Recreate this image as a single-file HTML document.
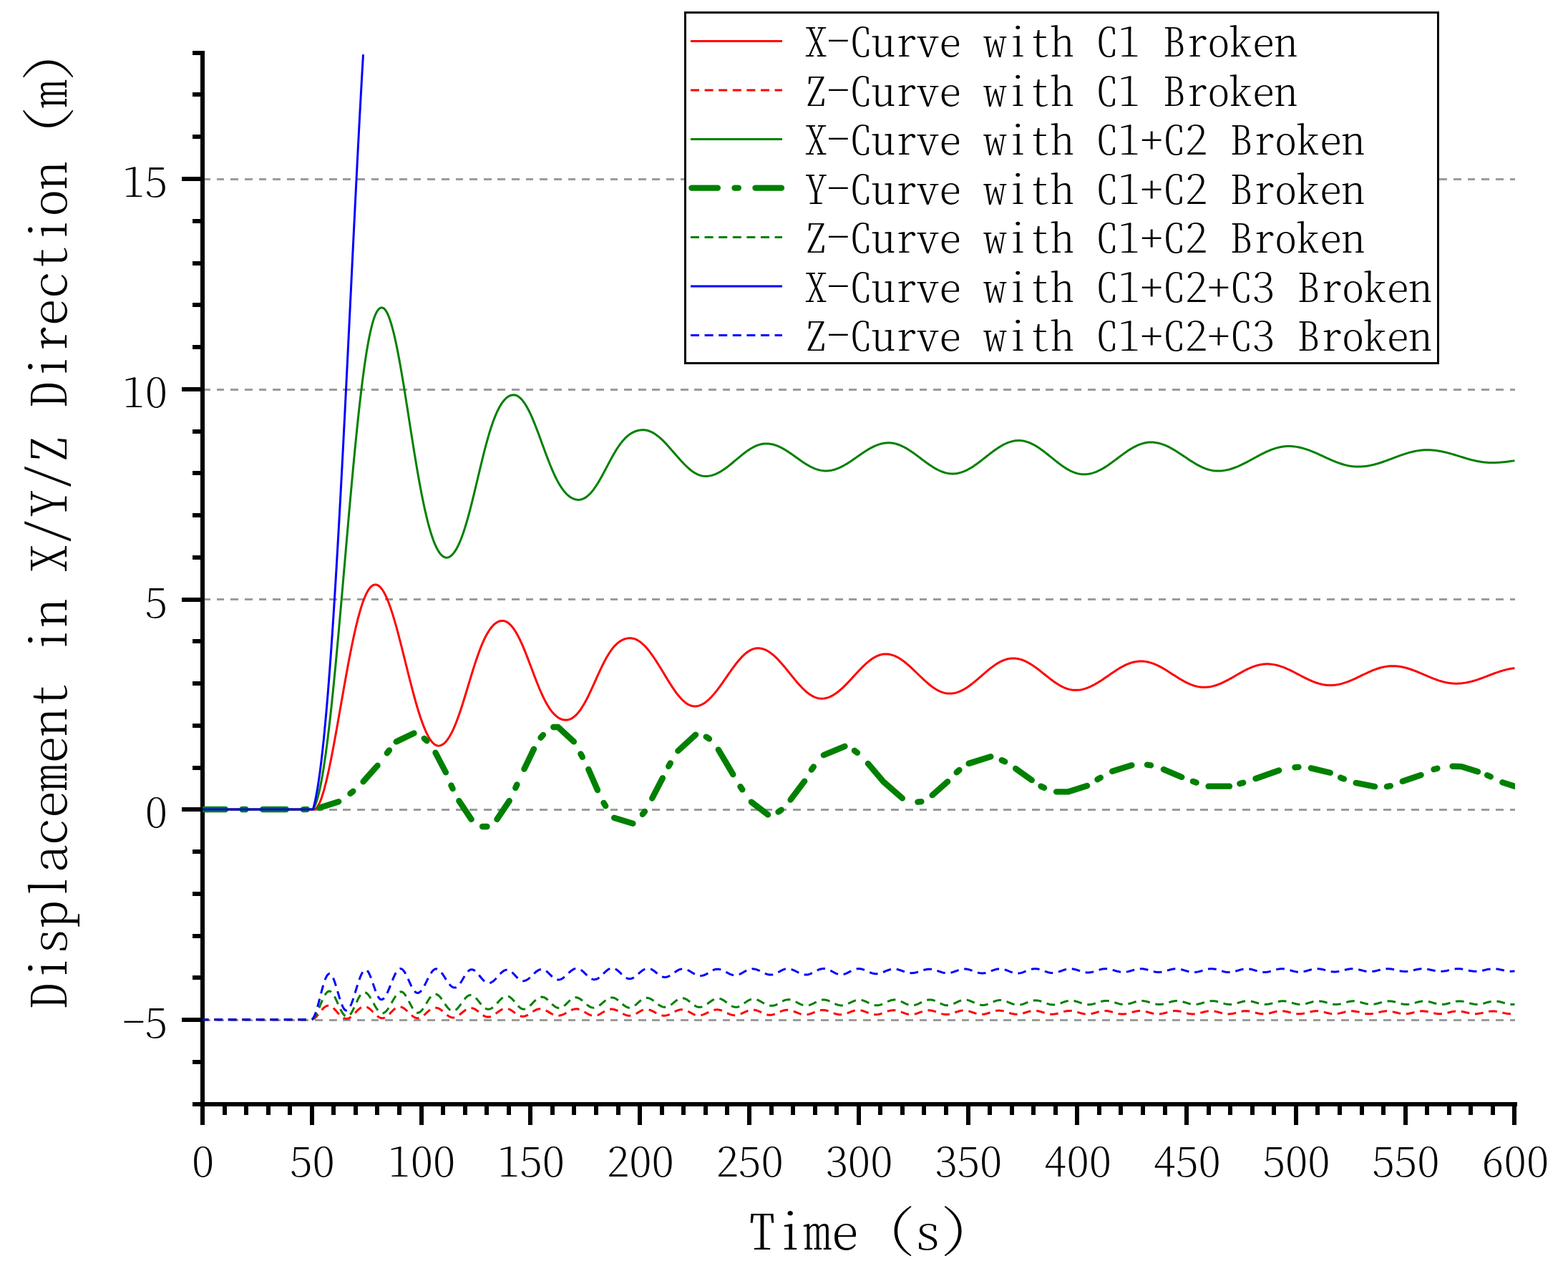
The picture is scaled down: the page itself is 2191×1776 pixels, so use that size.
<!DOCTYPE html>
<html lang="en"><head><meta charset="utf-8"><title>Displacement in X/Y/Z Direction</title>
<style>
html,body{margin:0;padding:0;background:#fff}
body{width:2191px;height:1776px;overflow:hidden}
svg{display:block}
text{font-family:"Noto Serif CJK SC", "Liberation Mono", "Liberation Serif", serif;font-weight:200;font-feature-settings:"hwid" 1;font-kerning:none;fill:#000;text-anchor:middle;white-space:pre}
.ax{fill:#000;shape-rendering:crispEdges}
.grid{stroke:#9b9b9b;stroke-width:3;stroke-dasharray:10.75 8.89;fill:none;shape-rendering:crispEdges}
.c{fill:none;stroke-linejoin:round}
</style></head><body>
<svg width="2191" height="1776" viewBox="0 0 2191 1776">
<rect width="2191" height="1776" fill="#fff"/>
<g class="grid">
<path d="M283 250.55 H2116.5"/>
<path d="M283 544.2 H2116.5"/>
<path d="M283 837.85 H2116.5"/>
<path d="M283 1131.5 H2116.5"/>
<path d="M283 1425.15 H2116.5"/>
</g>
<g class="ax">
<rect x="280" y="71" width="6" height="1475"/>
<rect x="269" y="1540" width="1851" height="6"/>
<rect x="269" y="1481" width="14" height="6"/>
<rect x="254" y="1422" width="29" height="6"/>
<rect x="269" y="1363" width="14" height="6"/>
<rect x="269" y="1305" width="14" height="6"/>
<rect x="269" y="1246" width="14" height="6"/>
<rect x="269" y="1187" width="14" height="6"/>
<rect x="254" y="1128" width="29" height="6"/>
<rect x="269" y="1070" width="14" height="6"/>
<rect x="269" y="1011" width="14" height="6"/>
<rect x="269" y="952" width="14" height="6"/>
<rect x="269" y="893" width="14" height="6"/>
<rect x="254" y="835" width="29" height="6"/>
<rect x="269" y="776" width="14" height="6"/>
<rect x="269" y="717" width="14" height="6"/>
<rect x="269" y="658" width="14" height="6"/>
<rect x="269" y="600" width="14" height="6"/>
<rect x="254" y="541" width="29" height="6"/>
<rect x="269" y="482" width="14" height="6"/>
<rect x="269" y="423" width="14" height="6"/>
<rect x="269" y="365" width="14" height="6"/>
<rect x="269" y="306" width="14" height="6"/>
<rect x="254" y="247" width="29" height="6"/>
<rect x="269" y="188" width="14" height="6"/>
<rect x="269" y="129" width="14" height="6"/>
<rect x="269" y="71" width="14" height="6"/>
<rect x="280" y="1543" width="6" height="29"/>
<rect x="311" y="1543" width="6" height="15"/>
<rect x="341" y="1543" width="6" height="15"/>
<rect x="372" y="1543" width="6" height="15"/>
<rect x="402" y="1543" width="6" height="15"/>
<rect x="433" y="1543" width="6" height="29"/>
<rect x="463" y="1543" width="6" height="15"/>
<rect x="494" y="1543" width="6" height="15"/>
<rect x="524" y="1543" width="6" height="15"/>
<rect x="555" y="1543" width="6" height="15"/>
<rect x="586" y="1543" width="6" height="29"/>
<rect x="616" y="1543" width="6" height="15"/>
<rect x="647" y="1543" width="6" height="15"/>
<rect x="677" y="1543" width="6" height="15"/>
<rect x="708" y="1543" width="6" height="15"/>
<rect x="738" y="1543" width="6" height="29"/>
<rect x="769" y="1543" width="6" height="15"/>
<rect x="799" y="1543" width="6" height="15"/>
<rect x="830" y="1543" width="6" height="15"/>
<rect x="861" y="1543" width="6" height="15"/>
<rect x="891" y="1543" width="6" height="29"/>
<rect x="922" y="1543" width="6" height="15"/>
<rect x="952" y="1543" width="6" height="15"/>
<rect x="983" y="1543" width="6" height="15"/>
<rect x="1013" y="1543" width="6" height="15"/>
<rect x="1044" y="1543" width="6" height="29"/>
<rect x="1075" y="1543" width="6" height="15"/>
<rect x="1105" y="1543" width="6" height="15"/>
<rect x="1136" y="1543" width="6" height="15"/>
<rect x="1166" y="1543" width="6" height="15"/>
<rect x="1197" y="1543" width="6" height="29"/>
<rect x="1227" y="1543" width="6" height="15"/>
<rect x="1258" y="1543" width="6" height="15"/>
<rect x="1288" y="1543" width="6" height="15"/>
<rect x="1319" y="1543" width="6" height="15"/>
<rect x="1350" y="1543" width="6" height="29"/>
<rect x="1380" y="1543" width="6" height="15"/>
<rect x="1411" y="1543" width="6" height="15"/>
<rect x="1441" y="1543" width="6" height="15"/>
<rect x="1472" y="1543" width="6" height="15"/>
<rect x="1502" y="1543" width="6" height="29"/>
<rect x="1533" y="1543" width="6" height="15"/>
<rect x="1563" y="1543" width="6" height="15"/>
<rect x="1594" y="1543" width="6" height="15"/>
<rect x="1625" y="1543" width="6" height="15"/>
<rect x="1655" y="1543" width="6" height="29"/>
<rect x="1686" y="1543" width="6" height="15"/>
<rect x="1716" y="1543" width="6" height="15"/>
<rect x="1747" y="1543" width="6" height="15"/>
<rect x="1777" y="1543" width="6" height="15"/>
<rect x="1808" y="1543" width="6" height="29"/>
<rect x="1838" y="1543" width="6" height="15"/>
<rect x="1869" y="1543" width="6" height="15"/>
<rect x="1900" y="1543" width="6" height="15"/>
<rect x="1930" y="1543" width="6" height="15"/>
<rect x="1961" y="1543" width="6" height="29"/>
<rect x="1991" y="1543" width="6" height="15"/>
<rect x="2022" y="1543" width="6" height="15"/>
<rect x="2052" y="1543" width="6" height="15"/>
<rect x="2083" y="1543" width="6" height="15"/>
<rect x="2113" y="1543" width="6" height="29"/>
</g>
<svg x="283" y="72.5" width="1834" height="1471" viewBox="283 72.5 1834 1471" overflow="hidden">
<g class="c">
<path d="M283 1131.1L437.32 1131.1L438.55 1131.3L439.78 1131.03L441 1130.31L442.23 1129.16L443.46 1127.59L444.69 1125.62L445.92 1123.26L447.15 1120.52L448.38 1117.43L449.61 1113.99L450.83 1110.23L452.06 1106.16L453.29 1101.79L454.52 1097.14L455.75 1092.23L456.98 1087.07L458.21 1081.68L459.44 1076.07L460.66 1070.26L461.89 1064.27L463.12 1058.11L464.35 1051.79L465.58 1045.33L466.81 1038.75L468.04 1032.06L469.27 1025.28L470.49 1018.42L471.72 1011.5L472.95 1004.53L474.18 997.52L475.41 990.49L476.64 983.46L477.87 976.43L479.1 969.43L480.33 962.46L481.55 955.53L482.78 948.67L484.01 941.88L485.24 935.17L486.47 928.56L487.7 922.06L488.93 915.68L490.16 909.43L491.38 903.31L492.61 897.35L493.84 891.55L495.07 885.92L496.3 880.46L497.53 875.19L498.76 870.12L499.99 865.24L501.21 860.58L502.44 856.13L503.67 851.9L504.9 847.9L506.13 844.13L507.36 840.6L508.59 837.3L509.82 834.25L511.04 831.44L512.27 828.88L513.5 826.57L514.73 824.51L515.96 822.7L517.19 821.14L518.42 819.83L519.65 818.76L520.87 817.94L522.1 817.35L523.33 817.01L524.56 816.89L526.08 817.07L527.6 817.61L529.12 818.49L530.64 819.73L532.16 821.32L533.68 823.24L535.2 825.5L536.72 828.08L538.24 830.98L539.76 834.19L541.28 837.69L542.8 841.47L544.32 845.53L545.84 849.84L547.36 854.39L548.88 859.17L550.4 864.16L551.92 869.34L553.44 874.69L554.96 880.21L556.48 885.86L558 891.64L559.52 897.52L561.04 903.48L562.56 909.51L564.08 915.59L565.6 921.7L567.12 927.82L568.64 933.93L570.16 940.01L571.68 946.05L573.2 952.03L574.72 957.93L576.24 963.74L577.76 969.44L579.28 975.01L580.8 980.44L582.32 985.71L583.84 990.81L585.36 995.74L586.88 1000.46L588.4 1004.98L589.92 1009.28L591.44 1013.36L592.96 1017.19L594.48 1020.78L596 1024.11L597.52 1027.18L599.04 1029.98L600.56 1032.5L602.08 1034.73L603.6 1036.68L605.12 1038.34L606.64 1039.7L608.16 1040.76L609.68 1041.52L611.2 1041.97L612.72 1042.12L614.26 1041.99L615.8 1041.61L617.34 1040.96L618.87 1040.06L620.41 1038.9L621.95 1037.48L623.49 1035.81L625.03 1033.88L626.57 1031.7L628.11 1029.28L629.64 1026.6L631.18 1023.69L632.72 1020.54L634.26 1017.17L635.8 1013.57L637.34 1009.76L638.87 1005.75L640.41 1001.55L641.95 997.18L643.49 992.65L645.03 987.98L646.57 983.19L648.1 978.29L649.64 973.3L651.18 968.25L652.72 963.16L654.26 958.04L655.8 952.93L657.34 947.84L658.87 942.79L660.41 937.81L661.95 932.91L663.49 928.11L665.03 923.43L666.57 918.9L668.1 914.51L669.64 910.29L671.18 906.24L672.72 902.38L674.26 898.71L675.8 895.24L677.34 891.98L678.87 888.92L680.41 886.07L681.95 883.43L683.49 881L685.03 878.78L686.57 876.77L688.1 874.96L689.64 873.35L691.18 871.94L692.72 870.73L694.26 869.71L695.8 868.87L697.33 868.23L698.87 867.77L700.41 867.49L701.95 867.4L703.48 867.51L705.01 867.83L706.54 868.35L708.07 869.09L709.6 870.04L711.13 871.2L712.66 872.57L714.19 874.14L715.72 875.92L717.26 877.9L718.79 880.08L720.32 882.46L721.85 885.02L723.38 887.76L724.91 890.68L726.44 893.77L727.97 897.02L729.5 900.41L731.03 903.94L732.56 907.59L734.09 911.35L735.62 915.21L737.15 919.14L738.68 923.14L740.21 927.18L741.74 931.25L743.27 935.32L744.81 939.39L746.34 943.44L747.87 947.44L749.4 951.38L750.93 955.25L752.46 959.04L753.99 962.71L755.52 966.28L757.05 969.72L758.58 973.02L760.11 976.18L761.64 979.19L763.17 982.04L764.7 984.73L766.23 987.26L767.76 989.62L769.29 991.82L770.82 993.85L772.35 995.72L773.89 997.43L775.42 998.97L776.95 1000.36L778.48 1001.59L780.01 1002.66L781.54 1003.59L783.07 1004.37L784.6 1005L786.13 1005.49L787.66 1005.84L789.19 1006.05L790.72 1006.12L792.24 1006.04L793.76 1005.8L795.28 1005.4L796.8 1004.84L798.32 1004.12L799.84 1003.23L801.36 1002.19L802.88 1000.98L804.4 999.61L805.92 998.08L807.44 996.38L808.96 994.53L810.48 992.52L812 990.36L813.52 988.04L815.04 985.58L816.56 982.99L818.08 980.26L819.6 977.4L821.12 974.44L822.64 971.37L824.16 968.21L825.68 964.97L827.2 961.67L828.72 958.32L830.24 954.94L831.76 951.54L833.28 948.13L834.8 944.74L836.33 941.38L837.85 938.06L839.37 934.81L840.89 931.62L842.41 928.52L843.93 925.52L845.45 922.62L846.97 919.84L848.49 917.18L850.01 914.65L851.53 912.26L853.05 910L854.57 907.88L856.09 905.91L857.61 904.07L859.13 902.37L860.65 900.82L862.17 899.39L863.69 898.1L865.21 896.94L866.73 895.9L868.25 894.99L869.77 894.19L871.29 893.51L872.81 892.94L874.33 892.47L875.85 892.11L877.37 891.86L878.89 891.71L880.41 891.66L881.94 891.72L883.48 891.91L885.01 892.23L886.54 892.67L888.07 893.23L889.61 893.92L891.14 894.73L892.67 895.66L894.21 896.71L895.74 897.87L897.27 899.14L898.81 900.52L900.34 902.01L901.87 903.6L903.41 905.29L904.94 907.08L906.47 908.95L908 910.91L909.54 912.95L911.07 915.06L912.6 917.25L914.14 919.5L915.67 921.8L917.2 924.16L918.74 926.57L920.27 929.01L921.8 931.49L923.34 933.99L924.87 936.51L926.4 939.05L927.93 941.59L929.47 944.12L931 946.65L932.53 949.16L934.07 951.65L935.6 954.1L937.13 956.52L938.67 958.89L940.2 961.2L941.73 963.46L943.27 965.65L944.8 967.76L946.33 969.79L947.86 971.73L949.4 973.58L950.93 975.33L952.46 976.98L954 978.51L955.53 979.93L957.06 981.23L958.6 982.4L960.13 983.44L961.66 984.36L963.2 985.13L964.73 985.77L966.26 986.27L967.79 986.63L969.33 986.85L970.86 986.92L972.38 986.86L973.9 986.68L975.42 986.38L976.94 985.97L978.47 985.44L979.99 984.79L981.51 984.03L983.03 983.16L984.55 982.19L986.07 981.1L987.59 979.92L989.11 978.64L990.63 977.26L992.16 975.79L993.68 974.23L995.2 972.6L996.72 970.88L998.24 969.1L999.76 967.24L1001.28 965.33L1002.8 963.36L1004.32 961.34L1005.84 959.27L1007.37 957.17L1008.89 955.04L1010.41 952.88L1011.93 950.7L1013.45 948.5L1014.97 946.31L1016.49 944.11L1018.01 941.92L1019.53 939.74L1021.06 937.58L1022.58 935.44L1024.1 933.34L1025.62 931.27L1027.14 929.25L1028.66 927.28L1030.18 925.37L1031.7 923.52L1033.22 921.73L1034.74 920.01L1036.27 918.38L1037.79 916.82L1039.31 915.35L1040.83 913.98L1042.35 912.69L1043.87 911.51L1045.39 910.43L1046.91 909.45L1048.43 908.58L1049.96 907.82L1051.48 907.17L1053 906.64L1054.52 906.23L1056.04 905.93L1057.56 905.75L1059.08 905.69L1060.62 905.75L1062.15 905.9L1063.69 906.16L1065.22 906.52L1066.76 906.98L1068.29 907.54L1069.82 908.2L1071.36 908.95L1072.89 909.8L1074.43 910.74L1075.96 911.77L1077.5 912.88L1079.03 914.08L1080.57 915.35L1082.1 916.7L1083.64 918.12L1085.17 919.61L1086.71 921.16L1088.24 922.77L1089.78 924.43L1091.31 926.14L1092.85 927.89L1094.38 929.68L1095.92 931.51L1097.45 933.36L1098.99 935.23L1100.52 937.12L1102.05 939.02L1103.59 940.93L1105.12 942.84L1106.66 944.74L1108.19 946.63L1109.73 948.51L1111.26 950.36L1112.8 952.18L1114.33 953.98L1115.87 955.73L1117.4 957.44L1118.94 959.1L1120.47 960.71L1122.01 962.26L1123.54 963.74L1125.08 965.17L1126.61 966.51L1128.15 967.79L1129.68 968.98L1131.21 970.1L1132.75 971.13L1134.28 972.07L1135.82 972.91L1137.35 973.67L1138.89 974.33L1140.42 974.89L1141.96 975.35L1143.49 975.71L1145.03 975.96L1146.56 976.12L1148.1 976.17L1149.61 976.13L1151.13 975.99L1152.65 975.77L1154.17 975.47L1155.68 975.07L1157.2 974.6L1158.72 974.03L1160.24 973.39L1161.75 972.66L1163.27 971.86L1164.79 970.98L1166.31 970.03L1167.83 969.01L1169.34 967.91L1170.86 966.76L1172.38 965.54L1173.9 964.26L1175.41 962.93L1176.93 961.55L1178.45 960.13L1179.97 958.66L1181.48 957.15L1183 955.6L1184.52 954.03L1186.04 952.43L1187.55 950.81L1189.07 949.17L1190.59 947.53L1192.11 945.87L1193.62 944.21L1195.14 942.56L1196.66 940.91L1198.18 939.28L1199.69 937.66L1201.21 936.06L1202.73 934.48L1204.25 932.94L1205.76 931.43L1207.28 929.96L1208.8 928.53L1210.32 927.15L1211.83 925.82L1213.35 924.55L1214.87 923.33L1216.39 922.17L1217.9 921.08L1219.42 920.06L1220.94 919.1L1222.46 918.23L1223.97 917.42L1225.49 916.7L1227.01 916.05L1228.53 915.49L1230.04 915.01L1231.56 914.62L1233.08 914.31L1234.6 914.09L1236.11 913.96L1237.63 913.92L1239.17 913.96L1240.71 914.08L1242.25 914.28L1243.79 914.56L1245.32 914.92L1246.86 915.36L1248.4 915.88L1249.94 916.47L1251.48 917.13L1253.02 917.87L1254.55 918.67L1256.09 919.54L1257.63 920.48L1259.17 921.48L1260.71 922.54L1262.25 923.65L1263.79 924.81L1265.32 926.03L1266.86 927.29L1268.4 928.59L1269.94 929.93L1271.48 931.3L1273.02 932.71L1274.55 934.13L1276.09 935.59L1277.63 937.05L1279.17 938.54L1280.71 940.03L1282.25 941.52L1283.79 943.01L1285.32 944.5L1286.86 945.99L1288.4 947.45L1289.94 948.9L1291.48 950.33L1293.02 951.74L1294.55 953.11L1296.09 954.45L1297.63 955.75L1299.17 957.01L1300.71 958.22L1302.25 959.39L1303.78 960.5L1305.32 961.56L1306.86 962.56L1308.4 963.49L1309.94 964.37L1311.48 965.17L1313.02 965.91L1314.55 966.57L1316.09 967.16L1317.63 967.68L1319.17 968.12L1320.71 968.48L1322.25 968.76L1323.78 968.96L1325.32 969.08L1326.86 969.12L1328.39 969.09L1329.93 968.98L1331.46 968.8L1332.99 968.55L1334.53 968.23L1336.06 967.83L1337.59 967.37L1339.13 966.85L1340.66 966.26L1342.19 965.6L1343.73 964.88L1345.26 964.1L1346.79 963.27L1348.33 962.38L1349.86 961.44L1351.39 960.45L1352.93 959.41L1354.46 958.32L1355.99 957.2L1357.52 956.04L1359.06 954.85L1360.59 953.62L1362.12 952.37L1363.66 951.1L1365.19 949.8L1366.72 948.5L1368.26 947.18L1369.79 945.85L1371.32 944.51L1372.86 943.18L1374.39 941.85L1375.92 940.53L1377.46 939.22L1378.99 937.93L1380.52 936.66L1382.06 935.41L1383.59 934.18L1385.12 932.99L1386.65 931.83L1388.19 930.71L1389.72 929.62L1391.25 928.58L1392.79 927.59L1394.32 926.65L1395.85 925.76L1397.39 924.92L1398.92 924.15L1400.45 923.43L1401.99 922.77L1403.52 922.18L1405.05 921.65L1406.59 921.2L1408.12 920.8L1409.65 920.48L1411.19 920.23L1412.72 920.05L1414.25 919.94L1415.79 919.91L1417.31 919.94L1418.84 920.04L1420.37 920.21L1421.9 920.44L1423.42 920.75L1424.95 921.11L1426.48 921.54L1428.01 922.03L1429.54 922.59L1431.06 923.2L1432.59 923.87L1434.12 924.59L1435.65 925.37L1437.18 926.2L1438.7 927.08L1440.23 928L1441.76 928.97L1443.29 929.98L1444.82 931.02L1446.34 932.1L1447.87 933.21L1449.4 934.34L1450.93 935.5L1452.45 936.68L1453.98 937.87L1455.51 939.08L1457.04 940.3L1458.57 941.52L1460.09 942.75L1461.62 943.97L1463.15 945.19L1464.68 946.4L1466.21 947.59L1467.73 948.77L1469.26 949.93L1470.79 951.07L1472.32 952.17L1473.85 953.25L1475.37 954.29L1476.9 955.3L1478.43 956.27L1479.96 957.19L1481.48 958.07L1483.01 958.9L1484.54 959.68L1486.07 960.4L1487.6 961.07L1489.12 961.69L1490.65 962.24L1492.18 962.73L1493.71 963.16L1495.24 963.53L1496.76 963.83L1498.29 964.06L1499.82 964.23L1501.35 964.33L1502.88 964.37L1504.4 964.34L1505.92 964.25L1507.44 964.12L1508.97 963.92L1510.49 963.68L1512.01 963.38L1513.54 963.02L1515.06 962.62L1516.58 962.16L1518.1 961.66L1519.63 961.11L1521.15 960.51L1522.67 959.86L1524.19 959.18L1525.72 958.45L1527.24 957.68L1528.76 956.88L1530.29 956.04L1531.81 955.17L1533.33 954.26L1534.85 953.33L1536.38 952.38L1537.9 951.4L1539.42 950.41L1540.95 949.39L1542.47 948.36L1543.99 947.32L1545.51 946.27L1547.04 945.22L1548.56 944.16L1550.08 943.11L1551.61 942.05L1553.13 941L1554.65 939.96L1556.17 938.93L1557.7 937.92L1559.22 936.92L1560.74 935.95L1562.26 934.99L1563.79 934.06L1565.31 933.16L1566.83 932.29L1568.36 931.45L1569.88 930.64L1571.4 929.88L1572.92 929.15L1574.45 928.46L1575.97 927.82L1577.49 927.22L1579.02 926.67L1580.54 926.16L1582.06 925.71L1583.58 925.3L1585.11 924.95L1586.63 924.65L1588.15 924.4L1589.68 924.21L1591.2 924.07L1592.72 923.99L1594.24 923.96L1595.77 923.99L1597.29 924.07L1598.81 924.2L1600.33 924.38L1601.86 924.62L1603.38 924.91L1604.9 925.25L1606.42 925.64L1607.95 926.08L1609.47 926.56L1610.99 927.09L1612.52 927.67L1614.04 928.28L1615.56 928.94L1617.08 929.64L1618.61 930.37L1620.13 931.14L1621.65 931.94L1623.17 932.77L1624.7 933.62L1626.22 934.5L1627.74 935.41L1629.26 936.33L1630.79 937.27L1632.31 938.23L1633.83 939.2L1635.35 940.17L1636.88 941.15L1638.4 942.14L1639.92 943.12L1641.45 944.1L1642.97 945.08L1644.49 946.04L1646.01 947L1647.54 947.94L1649.06 948.86L1650.58 949.77L1652.1 950.65L1653.63 951.51L1655.15 952.34L1656.67 953.14L1658.19 953.9L1659.72 954.64L1661.24 955.33L1662.76 955.99L1664.28 956.61L1665.81 957.18L1667.33 957.71L1668.85 958.2L1670.38 958.63L1671.9 959.02L1673.42 959.36L1674.94 959.65L1676.47 959.89L1677.99 960.07L1679.51 960.21L1681.03 960.29L1682.56 960.31L1684.07 960.29L1685.59 960.22L1687.11 960.1L1688.63 959.93L1690.14 959.72L1691.66 959.46L1693.18 959.16L1694.7 958.81L1696.21 958.42L1697.73 957.99L1699.25 957.52L1700.76 957L1702.28 956.45L1703.8 955.86L1705.32 955.24L1706.83 954.59L1708.35 953.9L1709.87 953.19L1711.39 952.45L1712.9 951.68L1714.42 950.89L1715.94 950.08L1717.46 949.26L1718.97 948.42L1720.49 947.57L1722.01 946.7L1723.53 945.83L1725.04 944.95L1726.56 944.07L1728.08 943.2L1729.59 942.32L1731.11 941.45L1732.63 940.58L1734.15 939.73L1735.66 938.89L1737.18 938.06L1738.7 937.26L1740.22 936.47L1741.73 935.7L1743.25 934.96L1744.77 934.25L1746.29 933.56L1747.8 932.91L1749.32 932.28L1750.84 931.7L1752.36 931.15L1753.87 930.63L1755.39 930.16L1756.91 929.73L1758.42 929.34L1759.94 928.99L1761.46 928.69L1762.98 928.43L1764.49 928.22L1766.01 928.05L1767.53 927.93L1769.05 927.86L1770.56 927.84L1772.09 927.86L1773.61 927.92L1775.13 928.03L1776.65 928.18L1778.18 928.38L1779.7 928.61L1781.22 928.89L1782.74 929.21L1784.27 929.56L1785.79 929.96L1787.31 930.39L1788.84 930.86L1790.36 931.36L1791.88 931.9L1793.4 932.47L1794.93 933.06L1796.45 933.69L1797.97 934.34L1799.49 935.02L1801.02 935.72L1802.54 936.44L1804.06 937.18L1805.58 937.93L1807.11 938.7L1808.63 939.48L1810.15 940.27L1811.67 941.06L1813.2 941.86L1814.72 942.66L1816.24 943.47L1817.77 944.27L1819.29 945.06L1820.81 945.85L1822.33 946.63L1823.86 947.4L1825.38 948.15L1826.9 948.89L1828.42 949.61L1829.95 950.31L1831.47 950.99L1832.99 951.64L1834.51 952.27L1836.04 952.86L1837.56 953.43L1839.08 953.97L1840.6 954.47L1842.13 954.94L1843.65 955.37L1845.17 955.77L1846.7 956.12L1848.22 956.44L1849.74 956.72L1851.26 956.95L1852.79 957.15L1854.31 957.3L1855.83 957.41L1857.35 957.47L1858.88 957.49L1860.4 957.47L1861.92 957.41L1863.44 957.31L1864.97 957.17L1866.49 956.99L1868.01 956.77L1869.53 956.51L1871.06 956.21L1872.58 955.88L1874.1 955.51L1875.62 955.1L1877.15 954.66L1878.67 954.19L1880.19 953.69L1881.71 953.16L1883.24 952.61L1884.76 952.02L1886.28 951.41L1887.8 950.78L1889.33 950.13L1890.85 949.46L1892.37 948.78L1893.89 948.08L1895.42 947.37L1896.94 946.65L1898.46 945.92L1899.98 945.18L1901.51 944.44L1903.03 943.7L1904.55 942.97L1906.07 942.23L1907.6 941.5L1909.12 940.78L1910.64 940.07L1912.16 939.37L1913.69 938.68L1915.21 938.01L1916.73 937.36L1918.26 936.73L1919.78 936.13L1921.3 935.54L1922.82 934.99L1924.35 934.46L1925.87 933.95L1927.39 933.48L1928.91 933.05L1930.44 932.64L1931.96 932.27L1933.48 931.94L1935 931.64L1936.53 931.38L1938.05 931.16L1939.57 930.98L1941.09 930.84L1942.62 930.74L1944.14 930.67L1945.66 930.65L1947.2 930.67L1948.74 930.73L1950.28 930.82L1951.81 930.94L1953.35 931.1L1954.89 931.3L1956.43 931.52L1957.97 931.79L1959.51 932.08L1961.05 932.41L1962.58 932.76L1964.12 933.15L1965.66 933.57L1967.2 934.01L1968.74 934.48L1970.28 934.97L1971.81 935.49L1973.35 936.03L1974.89 936.59L1976.43 937.16L1977.97 937.76L1979.51 938.37L1981.04 938.99L1982.58 939.62L1984.12 940.27L1985.66 940.92L1987.2 941.58L1988.74 942.24L1990.28 942.9L1991.81 943.56L1993.35 944.22L1994.89 944.88L1996.43 945.53L1997.97 946.18L1999.51 946.81L2001.04 947.43L2002.58 948.04L2004.12 948.64L2005.66 949.21L2007.2 949.77L2008.74 950.31L2010.28 950.83L2011.81 951.32L2013.35 951.79L2014.89 952.23L2016.43 952.65L2017.97 953.03L2019.51 953.39L2021.04 953.72L2022.58 954.01L2024.12 954.28L2025.66 954.5L2027.2 954.7L2028.74 954.86L2030.27 954.98L2031.81 955.07L2033.35 955.13L2034.89 955.14L2036.43 955.13L2037.97 955.08L2039.51 955L2041.05 954.89L2042.59 954.75L2044.13 954.57L2045.67 954.37L2047.21 954.13L2048.75 953.87L2050.28 953.58L2051.82 953.26L2053.36 952.91L2054.9 952.54L2056.44 952.14L2057.98 951.72L2059.52 951.28L2061.06 950.82L2062.6 950.34L2064.14 949.84L2065.68 949.32L2067.22 948.79L2068.76 948.24L2070.3 947.69L2071.84 947.12L2073.38 946.54L2074.92 945.96L2076.45 945.37L2077.99 944.78L2079.53 944.19L2081.07 943.6L2082.61 943.01L2084.15 942.42L2085.69 941.84L2087.23 941.26L2088.77 940.69L2090.31 940.14L2091.85 939.59L2093.39 939.06L2094.93 938.55L2096.47 938.05L2098.01 937.56L2099.55 937.1L2101.09 936.66L2102.63 936.24L2104.16 935.85L2105.7 935.48L2107.24 935.13L2108.78 934.81L2110.32 934.52L2111.86 934.26L2113.4 934.03L2114.94 933.82L2116.48 933.65" stroke="#ff0000" stroke-width="3"/>
<path d="M283 1424.75L434.57 1424.75L435.79 1424.63L437.01 1424.27L438.23 1423.67L439.46 1422.86L440.68 1421.86L441.9 1420.68L443.12 1419.36L444.35 1417.93L445.57 1416.43L446.79 1414.89L448.01 1413.35L449.24 1411.85L450.46 1410.43L451.68 1409.12L452.9 1407.95L454.12 1406.96L455.35 1406.16L456.57 1405.59L457.79 1405.24L459.01 1405.16L460.24 1405.33L461.46 1405.71L462.68 1406.29L463.9 1407.07L465.13 1408.01L466.35 1409.11L467.57 1410.32L468.79 1411.62L470.01 1412.99L471.24 1414.38L472.46 1415.77L473.68 1417.12L474.9 1418.41L476.13 1419.61L477.35 1420.68L478.57 1421.61L479.79 1422.37L481.02 1422.96L482.24 1423.35L483.46 1423.55L484.68 1423.55L485.91 1423.37L487.13 1422.98L488.35 1422.4L489.57 1421.64L490.79 1420.72L492.02 1419.67L493.24 1418.51L494.46 1417.26L495.68 1415.97L496.91 1414.65L498.13 1413.34L499.35 1412.08L500.57 1410.89L501.8 1409.79L503.02 1408.83L504.24 1408L505.46 1407.35L506.68 1406.87L507.91 1406.58L509.13 1406.49L510.35 1406.56L511.57 1406.82L512.8 1407.27L514.02 1407.9L515.24 1408.68L516.46 1409.6L517.69 1410.64L518.91 1411.77L520.13 1412.98L521.35 1414.21L522.57 1415.46L523.8 1416.69L525.02 1417.87L526.24 1418.97L527.46 1419.97L528.69 1420.85L529.91 1421.57L531.13 1422.14L532.35 1422.52L533.58 1422.73L534.8 1422.74L536.02 1422.55L537.24 1422.17L538.46 1421.59L539.69 1420.83L540.91 1419.92L542.13 1418.87L543.35 1417.72L544.58 1416.49L545.8 1415.21L547.02 1413.93L548.24 1412.67L549.47 1411.46L550.69 1410.34L551.91 1409.33L553.13 1408.46L554.36 1407.76L555.58 1407.23L556.8 1406.9L558.02 1406.77L559.24 1406.83L560.47 1407.08L561.69 1407.5L562.91 1408.09L564.13 1408.83L565.36 1409.7L566.58 1410.68L567.8 1411.76L569.02 1412.91L570.25 1414.09L571.47 1415.29L572.69 1416.48L573.91 1417.63L575.13 1418.71L576.36 1419.71L577.58 1420.59L578.8 1421.34L580.02 1421.94L581.25 1422.39L582.47 1422.66L583.69 1422.75L584.91 1422.65L586.14 1422.35L587.36 1421.89L588.58 1421.27L589.8 1420.51L591.02 1419.63L592.25 1418.65L593.47 1417.6L594.69 1416.49L595.91 1415.37L597.14 1414.25L598.36 1413.16L599.58 1412.13L600.8 1411.18L602.03 1410.33L603.25 1409.6L604.47 1409.01L605.69 1408.57L606.91 1408.28L608.14 1408.16L609.36 1408.21L610.58 1408.37L611.8 1408.7L613.03 1409.19L614.25 1409.83L615.47 1410.6L616.69 1411.48L617.92 1412.45L619.14 1413.49L620.36 1414.56L621.58 1415.64L622.8 1416.72L624.03 1417.75L625.25 1418.71L626.47 1419.58L627.69 1420.34L628.92 1420.96L630.14 1421.44L631.36 1421.77L632.58 1421.92L633.81 1421.9L635.03 1421.72L636.25 1421.37L637.47 1420.89L638.7 1420.27L639.92 1419.53L641.14 1418.69L642.36 1417.77L643.58 1416.79L644.81 1415.78L646.03 1414.75L647.25 1413.74L648.47 1412.76L649.7 1411.85L650.92 1411.01L652.14 1410.27L653.36 1409.65L654.59 1409.16L655.81 1408.8L657.03 1408.6L658.25 1408.55L659.47 1408.65L660.7 1408.92L661.92 1409.34L663.14 1409.91L664.36 1410.6L665.59 1411.4L666.81 1412.29L668.03 1413.24L669.25 1414.23L670.48 1415.24L671.7 1416.24L672.92 1417.2L674.14 1418.09L675.36 1418.9L676.59 1419.61L677.81 1420.2L679.03 1420.65L680.25 1420.95L681.48 1421.1L682.7 1421.09L683.92 1420.94L685.14 1420.64L686.37 1420.22L687.59 1419.67L688.81 1419.02L690.03 1418.27L691.25 1417.45L692.48 1416.58L693.7 1415.67L694.92 1414.75L696.14 1413.84L697.37 1412.97L698.59 1412.15L699.81 1411.4L701.03 1410.74L702.26 1410.18L703.48 1409.74L704.7 1409.42L705.92 1409.24L707.15 1409.2L708.37 1409.3L709.59 1409.54L710.81 1409.93L712.03 1410.45L713.26 1411.08L714.48 1411.81L715.7 1412.62L716.92 1413.48L718.15 1414.37L719.37 1415.28L720.59 1416.16L721.81 1417.01L723.04 1417.8L724.26 1418.51L725.48 1419.11L726.7 1419.6L727.92 1419.97L729.15 1420.2L730.37 1420.28L731.59 1420.22L732.81 1420.03L734.04 1419.71L735.26 1419.27L736.48 1418.72L737.7 1418.09L738.93 1417.37L740.15 1416.6L741.37 1415.78L742.59 1414.95L743.81 1414.12L745.04 1413.31L746.26 1412.54L747.48 1411.83L748.7 1411.2L749.93 1410.66L751.15 1410.23L752.37 1409.91L753.59 1409.7L754.82 1409.63L756.04 1409.68L757.26 1409.84L758.48 1410.13L759.7 1410.52L760.93 1411L762.15 1411.57L763.37 1412.21L764.59 1412.9L765.82 1413.63L767.04 1414.37L768.26 1415.12L769.48 1415.84L770.71 1416.53L771.93 1417.17L773.15 1417.73L774.37 1418.22L775.59 1418.62L776.82 1418.91L778.04 1419.09L779.26 1419.16L780.48 1419.16L781.71 1419.05L782.93 1418.83L784.15 1418.52L785.37 1418.12L786.6 1417.63L787.82 1417.08L789.04 1416.47L790.26 1415.81L791.49 1415.12L792.71 1414.42L793.93 1413.72L795.15 1413.04L796.37 1412.39L797.6 1411.79L798.82 1411.25L800.04 1410.79L801.26 1410.4L802.49 1410.11L803.71 1409.92L804.93 1409.84L806.15 1409.86L807.38 1409.99L808.6 1410.24L809.82 1410.58L811.04 1411.03L812.26 1411.55L813.49 1412.15L814.71 1412.81L815.93 1413.52L817.15 1414.25L818.38 1414.98L819.6 1415.72L820.82 1416.42L822.04 1417.09L823.27 1417.69L824.49 1418.23L825.71 1418.68L826.93 1419.04L828.15 1419.29L829.38 1419.43L830.6 1419.46L831.82 1419.36L833.04 1419.14L834.27 1418.8L835.49 1418.36L836.71 1417.83L837.93 1417.22L839.16 1416.54L840.38 1415.82L841.6 1415.08L842.82 1414.32L844.04 1413.58L845.27 1412.87L846.49 1412.2L847.71 1411.6L848.93 1411.09L850.16 1410.66L851.38 1410.35L852.6 1410.14L853.82 1410.05L855.05 1410.08L856.27 1410.21L857.49 1410.43L858.71 1410.75L859.94 1411.16L861.16 1411.64L862.38 1412.19L863.6 1412.79L864.82 1413.44L866.05 1414.1L867.27 1414.79L868.49 1415.47L869.71 1416.13L870.94 1416.76L872.16 1417.34L873.38 1417.87L874.6 1418.33L875.83 1418.71L877.05 1419L878.27 1419.2L879.49 1419.3L880.71 1419.3L881.94 1419.18L883.16 1418.93L884.38 1418.57L885.6 1418.1L886.83 1417.54L888.05 1416.91L889.27 1416.21L890.49 1415.48L891.72 1414.73L892.94 1413.98L894.16 1413.26L895.38 1412.59L896.6 1411.97L897.83 1411.44L899.05 1411L900.27 1410.68L901.49 1410.46L902.72 1410.38L903.94 1410.41L905.16 1410.54L906.38 1410.77L907.61 1411.1L908.83 1411.51L910.05 1412L911.27 1412.56L912.49 1413.16L913.72 1413.81L914.94 1414.47L916.16 1415.14L917.38 1415.81L918.61 1416.45L919.83 1417.04L921.05 1417.59L922.27 1418.07L923.5 1418.47L924.72 1418.79L925.94 1419.01L927.16 1419.14L928.38 1419.17L929.61 1419.09L930.83 1418.91L932.05 1418.63L933.27 1418.27L934.5 1417.83L935.72 1417.31L936.94 1416.74L938.16 1416.13L939.39 1415.49L940.61 1414.83L941.83 1414.18L943.05 1413.54L944.28 1412.94L945.5 1412.38L946.72 1411.88L947.94 1411.46L949.16 1411.11L950.39 1410.86L951.61 1410.7L952.83 1410.64L954.05 1410.69L955.28 1410.85L956.5 1411.12L957.72 1411.49L958.94 1411.96L960.17 1412.5L961.39 1413.11L962.61 1413.76L963.83 1414.44L965.05 1415.13L966.28 1415.81L967.5 1416.47L968.72 1417.07L969.94 1417.61L971.17 1418.08L972.39 1418.45L973.61 1418.73L974.83 1418.89L976.06 1418.94L977.28 1418.89L978.5 1418.76L979.72 1418.53L980.94 1418.23L982.17 1417.86L983.39 1417.42L984.61 1416.92L985.83 1416.38L987.06 1415.81L988.28 1415.22L989.5 1414.62L990.72 1414.03L991.95 1413.46L993.17 1412.92L994.39 1412.42L995.61 1411.98L996.83 1411.6L998.06 1411.29L999.28 1411.06L1000.5 1410.91L1001.72 1410.85L1002.95 1410.87L1004.17 1410.99L1005.39 1411.21L1006.61 1411.5L1007.84 1411.88L1009.06 1412.32L1010.28 1412.82L1011.5 1413.37L1012.73 1413.95L1013.95 1414.55L1015.17 1415.16L1016.39 1415.76L1017.61 1416.33L1018.84 1416.86L1020.06 1417.35L1021.28 1417.77L1022.5 1418.13L1023.73 1418.4L1024.95 1418.59L1026.17 1418.69L1027.39 1418.69L1028.62 1418.6L1029.84 1418.43L1031.06 1418.16L1032.28 1417.83L1033.5 1417.42L1034.73 1416.95L1035.95 1416.44L1037.17 1415.89L1038.39 1415.31L1039.62 1414.73L1040.84 1414.15L1042.06 1413.58L1043.28 1413.05L1044.51 1412.56L1045.73 1412.12L1046.95 1411.75L1048.17 1411.45L1049.39 1411.23L1050.62 1411.09L1051.84 1411.04L1053.06 1411.08L1054.28 1411.21L1055.51 1411.43L1056.73 1411.74L1057.95 1412.12L1059.17 1412.57L1060.4 1413.07L1061.62 1413.61L1062.84 1414.17L1064.06 1414.75L1065.28 1415.33L1066.51 1415.89L1067.73 1416.41L1068.95 1416.9L1070.17 1417.32L1071.4 1417.67L1072.62 1417.95L1073.84 1418.14L1075.06 1418.24L1076.29 1418.26L1077.51 1418.18L1078.73 1418.01L1079.95 1417.76L1081.17 1417.43L1082.4 1417.03L1083.62 1416.57L1084.84 1416.07L1086.06 1415.53L1087.29 1414.98L1088.51 1414.41L1089.73 1413.86L1090.95 1413.33L1092.18 1412.83L1093.4 1412.39L1094.62 1412L1095.84 1411.68L1097.07 1411.44L1098.29 1411.29L1099.51 1411.21L1100.73 1411.23L1101.95 1411.32L1103.18 1411.49L1104.4 1411.73L1105.62 1412.03L1106.84 1412.4L1108.07 1412.81L1109.29 1413.26L1110.51 1413.74L1111.73 1414.23L1112.96 1414.74L1114.18 1415.23L1115.4 1415.71L1116.62 1416.17L1117.84 1416.58L1119.07 1416.95L1120.29 1417.26L1121.51 1417.5L1122.73 1417.68L1123.96 1417.79L1125.18 1417.82L1126.4 1417.78L1127.62 1417.67L1128.85 1417.48L1130.07 1417.22L1131.29 1416.9L1132.51 1416.52L1133.73 1416.09L1134.96 1415.63L1136.18 1415.14L1137.4 1414.64L1138.62 1414.14L1139.85 1413.65L1141.07 1413.18L1142.29 1412.75L1143.51 1412.36L1144.74 1412.02L1145.96 1411.75L1147.18 1411.55L1148.4 1411.42L1149.62 1411.36L1150.85 1411.39L1152.07 1411.49L1153.29 1411.67L1154.51 1411.91L1155.74 1412.22L1156.96 1412.59L1158.18 1413.01L1159.4 1413.46L1160.63 1413.94L1161.85 1414.44L1163.07 1414.93L1164.29 1415.42L1165.52 1415.89L1166.74 1416.32L1167.96 1416.72L1169.18 1417.06L1170.4 1417.34L1171.63 1417.55L1172.85 1417.69L1174.07 1417.75L1175.29 1417.74L1176.52 1417.66L1177.74 1417.49L1178.96 1417.26L1180.18 1416.97L1181.41 1416.61L1182.63 1416.21L1183.85 1415.77L1185.07 1415.3L1186.29 1414.82L1187.52 1414.33L1188.74 1413.85L1189.96 1413.38L1191.18 1412.95L1192.41 1412.56L1193.63 1412.22L1194.85 1411.93L1196.07 1411.71L1197.3 1411.57L1198.52 1411.49L1199.74 1411.49L1200.96 1411.57L1202.18 1411.72L1203.41 1411.94L1204.63 1412.22L1205.85 1412.56L1207.07 1412.96L1208.3 1413.39L1209.52 1413.85L1210.74 1414.32L1211.96 1414.81L1213.19 1415.28L1214.41 1415.75L1215.63 1416.18L1216.85 1416.57L1218.07 1416.92L1219.3 1417.21L1220.52 1417.44L1221.74 1417.6L1222.96 1417.68L1224.19 1417.69L1225.41 1417.63L1226.63 1417.49L1227.85 1417.29L1229.08 1417.02L1230.3 1416.69L1231.52 1416.31L1232.74 1415.9L1233.96 1415.45L1235.19 1414.98L1236.41 1414.51L1237.63 1414.04L1238.85 1413.59L1240.08 1413.16L1241.3 1412.77L1242.52 1412.42L1243.74 1412.13L1244.97 1411.9L1246.19 1411.74L1247.41 1411.64L1248.63 1411.62L1249.86 1411.67L1251.08 1411.8L1252.3 1411.99L1253.52 1412.25L1254.74 1412.56L1255.97 1412.93L1257.19 1413.33L1258.41 1413.76L1259.63 1414.22L1260.86 1414.68L1262.08 1415.15L1263.3 1415.59L1264.52 1416.02L1265.75 1416.41L1266.97 1416.76L1268.19 1417.05L1269.41 1417.29L1270.63 1417.46L1271.86 1417.56L1273.08 1417.6L1274.3 1417.56L1275.52 1417.45L1276.75 1417.27L1277.97 1417.03L1279.19 1416.73L1280.41 1416.38L1281.64 1415.99L1282.86 1415.57L1284.08 1415.13L1285.3 1414.68L1286.52 1414.23L1287.75 1413.79L1288.97 1413.37L1290.19 1412.98L1291.41 1412.63L1292.64 1412.34L1293.86 1412.1L1295.08 1411.92L1296.3 1411.81L1297.53 1411.77L1298.75 1411.8L1299.97 1411.9L1301.19 1412.07L1302.41 1412.29L1303.64 1412.58L1304.86 1412.91L1306.08 1413.29L1307.3 1413.7L1308.53 1414.13L1309.75 1414.57L1310.97 1415.02L1312.19 1415.45L1313.42 1415.87L1314.64 1416.25L1315.86 1416.6L1317.08 1416.89L1318.31 1417.14L1319.53 1417.32L1320.75 1417.44L1321.97 1417.49L1323.19 1417.47L1324.42 1417.39L1325.64 1417.24L1326.86 1417.03L1328.08 1416.76L1329.31 1416.44L1330.53 1416.08L1331.75 1415.68L1332.97 1415.27L1334.2 1414.84L1335.42 1414.4L1336.64 1413.98L1337.86 1413.57L1339.08 1413.19L1340.31 1412.84L1341.53 1412.55L1342.75 1412.3L1343.97 1412.11L1345.2 1411.99L1346.42 1411.93L1347.64 1411.94L1348.86 1412.01L1350.09 1412.15L1351.31 1412.35L1352.53 1412.61L1353.75 1412.91L1354.97 1413.26L1356.2 1413.64L1357.42 1414.05L1358.64 1414.47L1359.86 1414.9L1361.09 1415.32L1362.31 1415.72L1363.53 1416.1L1364.75 1416.44L1365.98 1416.74L1367.2 1416.99L1368.42 1417.18L1369.64 1417.31L1370.86 1417.38L1372.09 1417.38L1373.31 1417.32L1374.53 1417.2L1375.75 1417.01L1376.98 1416.77L1378.2 1416.48L1379.42 1416.15L1380.64 1415.78L1381.87 1415.39L1383.09 1414.98L1384.31 1414.57L1385.53 1414.16L1386.75 1413.76L1387.98 1413.39L1389.2 1413.05L1390.42 1412.75L1391.64 1412.5L1392.87 1412.31L1394.09 1412.17L1395.31 1412.09L1396.53 1412.08L1397.76 1412.13L1398.98 1412.25L1400.2 1412.42L1401.42 1412.65L1402.65 1412.93L1403.87 1413.25L1405.09 1413.6L1406.31 1413.99L1407.53 1414.38L1408.76 1414.79L1409.98 1415.19L1411.2 1415.58L1412.42 1415.95L1413.65 1416.29L1414.87 1416.59L1416.09 1416.84L1417.31 1417.04L1418.54 1417.18L1419.76 1417.27L1420.98 1417.29L1422.2 1417.25L1423.42 1417.15L1424.65 1416.99L1425.87 1416.77L1427.09 1416.51L1428.31 1416.2L1429.54 1415.86L1430.76 1415.5L1431.98 1415.11L1433.2 1414.72L1434.43 1414.33L1435.65 1413.94L1436.87 1413.58L1438.09 1413.25L1439.31 1412.95L1440.54 1412.7L1441.76 1412.5L1442.98 1412.35L1444.2 1412.26L1445.43 1412.23L1446.65 1412.26L1447.87 1412.35L1449.09 1412.5L1450.32 1412.7L1451.54 1412.96L1452.76 1413.25L1453.98 1413.58L1455.2 1413.93L1456.43 1414.31L1457.65 1414.69L1458.87 1415.08L1460.09 1415.45L1461.32 1415.81L1462.54 1416.14L1463.76 1416.44L1464.98 1416.69L1466.21 1416.9L1467.43 1417.05L1468.65 1417.15L1469.87 1417.19L1471.1 1417.17L1472.32 1417.09L1473.54 1416.95L1474.76 1416.76L1475.98 1416.53L1477.21 1416.25L1478.43 1415.93L1479.65 1415.59L1480.87 1415.23L1482.1 1414.86L1483.32 1414.48L1484.54 1414.12L1485.76 1413.77L1486.99 1413.44L1488.21 1413.15L1489.43 1412.9L1490.65 1412.69L1491.87 1412.53L1493.1 1412.43L1494.32 1412.39L1495.54 1412.4L1496.76 1412.47L1497.99 1412.59L1499.21 1412.77L1500.43 1412.99L1501.65 1413.26L1502.88 1413.56L1504.1 1413.9L1505.32 1414.25L1506.54 1414.61L1507.76 1414.97L1508.99 1415.33L1510.21 1415.68L1511.43 1416L1512.65 1416.3L1513.88 1416.55L1515.1 1416.77L1516.32 1416.93L1517.54 1417.04L1518.77 1417.09L1519.99 1417.09L1521.21 1417.04L1522.43 1416.92L1523.65 1416.76L1524.88 1416.55L1526.1 1416.29L1527.32 1416L1528.54 1415.68L1529.77 1415.33L1530.99 1414.98L1532.21 1414.61L1533.43 1414.26L1534.66 1413.91L1535.88 1413.59L1537.1 1413.29L1538.32 1413.03L1539.54 1412.82L1540.77 1412.65L1541.99 1412.53L1543.21 1412.47L1544.43 1412.46L1545.66 1412.51L1546.88 1412.61L1548.1 1412.76L1549.32 1412.97L1550.55 1413.21L1551.77 1413.5L1552.99 1413.81L1554.21 1414.15L1555.44 1414.5L1556.66 1414.86L1557.88 1415.22L1559.1 1415.56L1560.32 1415.89L1561.55 1416.18L1562.77 1416.44L1563.99 1416.67L1565.21 1416.84L1566.44 1416.97L1567.66 1417.04L1568.88 1417.05L1570.1 1417.01L1571.33 1416.92L1572.55 1416.77L1573.77 1416.58L1574.99 1416.34L1576.21 1416.06L1577.44 1415.76L1578.66 1415.43L1579.88 1415.08L1581.1 1414.73L1582.33 1414.37L1583.55 1414.03L1584.77 1413.71L1585.99 1413.41L1587.22 1413.14L1588.44 1412.92L1589.66 1412.74L1590.88 1412.6L1592.1 1412.53L1593.33 1412.5L1594.55 1412.53L1595.77 1412.62L1596.99 1412.75L1598.22 1412.94L1599.44 1413.17L1600.66 1413.44L1601.88 1413.74L1603.11 1414.06L1604.33 1414.4L1605.55 1414.75L1606.77 1415.1L1607.99 1415.44L1609.22 1415.77L1610.44 1416.07L1611.66 1416.34L1612.88 1416.57L1614.11 1416.75L1615.33 1416.89L1616.55 1416.97L1617.77 1417.01L1619 1416.98L1620.22 1416.91L1621.44 1416.78L1622.66 1416.6L1623.89 1416.38L1625.11 1416.12L1626.33 1415.83L1627.55 1415.51L1628.77 1415.18L1630 1414.83L1631.22 1414.49L1632.44 1414.15L1633.66 1413.82L1634.89 1413.52L1636.11 1413.25L1637.33 1413.02L1638.55 1412.83L1639.78 1412.68L1641 1412.59L1642.22 1412.55L1643.44 1412.56L1644.66 1412.63L1645.89 1412.75L1647.11 1412.92L1648.33 1413.13L1649.55 1413.38L1650.78 1413.67L1652 1413.98L1653.22 1414.31L1654.44 1414.65L1655.67 1414.99L1656.89 1415.33L1658.11 1415.65L1659.33 1415.95L1660.55 1416.23L1661.78 1416.46L1663 1416.66L1664.22 1416.81L1665.44 1416.91L1666.67 1416.96L1667.89 1416.95L1669.11 1416.89L1670.33 1416.78L1671.56 1416.62L1672.78 1416.42L1674 1416.18L1675.22 1415.9L1676.44 1415.59L1677.67 1415.27L1678.89 1414.93L1680.11 1414.59L1681.33 1414.26L1682.56 1413.94L1683.78 1413.63L1685 1413.36L1686.22 1413.12L1687.45 1412.92L1688.67 1412.77L1689.89 1412.66L1691.11 1412.6L1692.33 1412.6L1693.56 1412.65L1694.78 1412.75L1696 1412.9L1697.22 1413.1L1698.45 1413.33L1699.67 1413.6L1700.89 1413.9L1702.11 1414.22L1703.34 1414.55L1704.56 1414.88L1705.78 1415.22L1707 1415.54L1708.23 1415.84L1709.45 1416.12L1710.67 1416.36L1711.89 1416.56L1713.11 1416.72L1714.34 1416.84L1715.56 1416.9L1716.78 1416.91L1718 1416.87L1719.23 1416.78L1720.45 1416.63L1721.67 1416.45L1722.89 1416.22L1724.12 1415.96L1725.34 1415.67L1726.56 1415.36L1727.78 1415.03L1729 1414.7L1730.23 1414.37L1731.45 1414.05L1732.67 1413.75L1733.89 1413.47L1735.12 1413.22L1736.34 1413.02L1737.56 1412.85L1738.78 1412.73L1740.01 1412.66L1741.23 1412.64L1742.45 1412.68L1743.67 1412.76L1744.89 1412.89L1746.12 1413.07L1747.34 1413.29L1748.56 1413.54L1749.78 1413.83L1751.01 1414.13L1752.23 1414.45L1753.45 1414.78L1754.67 1415.11L1755.9 1415.43L1757.12 1415.73L1758.34 1416.01L1759.56 1416.26L1760.78 1416.47L1762.01 1416.64L1763.23 1416.76L1764.45 1416.84L1765.67 1416.86L1766.9 1416.84L1768.12 1416.76L1769.34 1416.64L1770.56 1416.47L1771.79 1416.26L1773.01 1416.01L1774.23 1415.74L1775.45 1415.44L1776.68 1415.12L1777.9 1414.8L1779.12 1414.48L1780.34 1414.16L1781.56 1413.86L1782.79 1413.58L1784.01 1413.33L1785.23 1413.11L1786.45 1412.94L1787.68 1412.81L1788.9 1412.72L1790.12 1412.69L1791.34 1412.71L1792.57 1412.78L1793.79 1412.89L1795.01 1413.05L1796.23 1413.25L1797.45 1413.49L1798.68 1413.76L1799.9 1414.05L1801.12 1414.36L1802.34 1414.68L1803.57 1415L1804.79 1415.32L1806.01 1415.62L1807.23 1415.9L1808.46 1416.15L1809.68 1416.37L1810.9 1416.55L1812.12 1416.69L1813.34 1416.78L1814.57 1416.82L1815.79 1416.81L1817.01 1416.75L1818.23 1416.64L1819.46 1416.49L1820.68 1416.3L1821.9 1416.07L1823.12 1415.8L1824.35 1415.52L1825.57 1415.21L1826.79 1414.9L1828.01 1414.58L1829.23 1414.27L1830.46 1413.97L1831.68 1413.68L1832.9 1413.43L1834.12 1413.21L1835.35 1413.02L1836.57 1412.88L1837.79 1412.79L1839.01 1412.74L1840.24 1412.74L1841.46 1412.79L1842.68 1412.89L1843.9 1413.03L1845.12 1413.22L1846.35 1413.44L1847.57 1413.7L1848.79 1413.98L1850.01 1414.28L1851.24 1414.59L1852.46 1414.91L1853.68 1415.22L1854.9 1415.52L1856.13 1415.8L1857.35 1416.06L1858.57 1416.29L1859.79 1416.48L1861.02 1416.62L1862.24 1416.73L1863.46 1416.78L1864.68 1416.79L1865.9 1416.74L1867.13 1416.65L1868.35 1416.52L1869.57 1416.34L1870.79 1416.12L1872.02 1415.87L1873.24 1415.6L1874.46 1415.3L1875.68 1415L1876.91 1414.68L1878.13 1414.37L1879.35 1414.07L1880.57 1413.79L1881.79 1413.53L1883.02 1413.3L1884.24 1413.11L1885.46 1412.95L1886.68 1412.85L1887.91 1412.78L1889.13 1412.77L1890.35 1412.81L1891.57 1412.89L1892.8 1413.02L1894.02 1413.19L1895.24 1413.4L1896.46 1413.64L1897.68 1413.91L1898.91 1414.2L1900.13 1414.51L1901.35 1414.82L1902.57 1415.13L1903.8 1415.43L1905.02 1415.71L1906.24 1415.97L1907.46 1416.2L1908.69 1416.4L1909.91 1416.56L1911.13 1416.67L1912.35 1416.74L1913.57 1416.76L1914.8 1416.73L1916.02 1416.66L1917.24 1416.54L1918.46 1416.38L1919.69 1416.17L1920.91 1415.94L1922.13 1415.67L1923.35 1415.39L1924.58 1415.09L1925.8 1414.78L1927.02 1414.48L1928.24 1414.18L1929.47 1413.89L1930.69 1413.63L1931.91 1413.39L1933.13 1413.19L1934.35 1413.03L1935.58 1412.91L1936.8 1412.84L1938.02 1412.81L1939.24 1412.83L1940.47 1412.9L1941.69 1413.01L1942.91 1413.17L1944.13 1413.36L1945.36 1413.59L1946.58 1413.85L1947.8 1414.13L1949.02 1414.42L1950.24 1414.73L1951.47 1415.03L1952.69 1415.33L1953.91 1415.62L1955.13 1415.88L1956.36 1416.12L1957.58 1416.32L1958.8 1416.49L1960.02 1416.62L1961.25 1416.7L1962.47 1416.73L1963.69 1416.72L1964.91 1416.66L1966.13 1416.55L1967.36 1416.41L1968.58 1416.22L1969.8 1416L1971.02 1415.75L1972.25 1415.47L1973.47 1415.18L1974.69 1414.88L1975.91 1414.58L1977.14 1414.28L1978.36 1413.99L1979.58 1413.73L1980.8 1413.49L1982.02 1413.28L1983.25 1413.11L1984.47 1412.98L1985.69 1412.89L1986.91 1412.85L1988.14 1412.86L1989.36 1412.91L1990.58 1413.01L1991.8 1413.15L1993.03 1413.33L1994.25 1413.54L1995.47 1413.79L1996.69 1414.06L1997.91 1414.34L1999.14 1414.64L2000.36 1414.94L2001.58 1415.24L2002.8 1415.52L2004.03 1415.79L2005.25 1416.03L2006.47 1416.24L2007.69 1416.42L2008.92 1416.56L2010.14 1416.65L2011.36 1416.7L2012.58 1416.7L2013.81 1416.66L2015.03 1416.57L2016.25 1416.43L2017.47 1416.26L2018.69 1416.05L2019.92 1415.81L2021.14 1415.55L2022.36 1415.27L2023.58 1414.97L2024.81 1414.68L2026.03 1414.38L2027.25 1414.1L2028.47 1413.83L2029.7 1413.58L2030.92 1413.37L2032.14 1413.19L2033.36 1413.05L2034.58 1412.95L2035.81 1412.89L2037.03 1412.89L2038.25 1412.92L2039.47 1413.01L2040.7 1413.13L2041.92 1413.3L2043.14 1413.5L2044.36 1413.73L2045.59 1413.99L2046.81 1414.27L2048.03 1414.56L2049.25 1414.85L2050.47 1415.15L2051.7 1415.43L2052.92 1415.7L2054.14 1415.95L2055.36 1416.16L2056.59 1416.35L2057.81 1416.49L2059.03 1416.6L2060.25 1416.66L2061.48 1416.68L2062.7 1416.65L2063.92 1416.57L2065.14 1416.45L2066.36 1416.29L2067.59 1416.1L2068.81 1415.87L2070.03 1415.62L2071.25 1415.35L2072.48 1415.06L2073.7 1414.77L2074.92 1414.48L2076.14 1414.2L2077.37 1413.93L2078.59 1413.68L2079.81 1413.46L2081.03 1413.27L2082.26 1413.12L2083.48 1413.01L2084.7 1412.94L2085.92 1412.92L2087.14 1412.95L2088.37 1413.01L2089.59 1413.12L2090.81 1413.28L2092.03 1413.46L2093.26 1413.68L2094.48 1413.93L2095.7 1414.2L2096.92 1414.48L2098.15 1414.77L2099.37 1415.06L2100.59 1415.34L2101.81 1415.61L2103.03 1415.86L2104.26 1416.08L2105.48 1416.27L2106.7 1416.43L2107.92 1416.55L2109.15 1416.62L2110.37 1416.65L2111.59 1416.63L2112.81 1416.57L2114.04 1416.47L2115.26 1416.32L2116.48 1416.14" stroke="#ff0000" stroke-width="3" stroke-dasharray="11.7 7.8" stroke-dashoffset="3.2"/>
<path d="M283 1131.1L437.32 1131.1L438.54 1129.11L439.75 1126.63L440.97 1123.68L442.19 1120.23L443.4 1116.29L444.62 1111.86L445.84 1106.93L447.06 1101.5L448.27 1095.59L449.49 1089.19L450.71 1082.3L451.93 1074.94L453.14 1067.12L454.36 1058.83L455.58 1050.1L456.79 1040.94L458.01 1031.36L459.23 1021.37L460.45 1010.99L461.66 1000.23L462.88 989.11L464.1 977.65L465.32 965.87L466.53 953.79L467.75 941.42L468.97 928.79L470.18 915.92L471.4 902.82L472.62 889.53L473.84 876.06L475.05 862.44L476.27 848.69L477.49 834.83L478.71 820.89L479.92 806.89L481.14 792.85L482.36 778.8L483.57 764.77L484.79 750.77L486.01 736.83L487.23 722.98L488.44 709.23L489.66 695.61L490.88 682.15L492.1 668.86L493.31 655.76L494.53 642.89L495.75 630.25L496.97 617.88L498.18 605.78L499.4 593.98L500.62 582.5L501.83 571.36L503.05 560.56L504.27 550.13L505.49 540.08L506.7 530.43L507.92 521.19L509.14 512.36L510.36 503.97L511.57 496.02L512.79 488.51L514.01 481.45L515.22 474.86L516.44 468.73L517.66 463.06L518.88 457.87L520.09 453.13L521.31 448.86L522.53 445.05L523.75 441.7L524.96 438.78L526.18 436.31L527.4 434.26L528.61 432.63L529.83 431.39L531.05 430.53L532.27 430.03L533.48 429.86L535.02 430.18L536.55 431.11L538.08 432.67L539.61 434.83L541.14 437.6L542.68 440.97L544.21 444.91L545.74 449.42L547.27 454.48L548.8 460.06L550.34 466.14L551.87 472.7L553.4 479.71L554.93 487.14L556.46 494.96L558 503.15L559.53 511.65L561.06 520.45L562.59 529.51L564.12 538.78L565.66 548.24L567.19 557.84L568.72 567.54L570.25 577.32L571.79 587.12L573.32 596.93L574.85 606.69L576.38 616.38L577.91 625.97L579.45 635.41L580.98 644.7L582.51 653.78L584.04 662.65L585.57 671.28L587.11 679.64L588.64 687.72L590.17 695.5L591.7 702.97L593.23 710.12L594.77 716.92L596.3 723.39L597.83 729.5L599.36 735.26L600.89 740.66L602.43 745.7L603.96 750.37L605.49 754.69L607.02 758.65L608.55 762.25L610.09 765.5L611.62 768.39L613.15 770.94L614.68 773.14L616.21 774.99L617.75 776.51L619.28 777.68L620.81 778.52L622.34 779.02L623.87 779.19L625.41 779.04L626.95 778.6L628.49 777.85L630.03 776.81L631.56 775.47L633.1 773.83L634.64 771.9L636.18 769.66L637.72 767.12L639.25 764.29L640.79 761.16L642.33 757.73L643.87 754.01L645.41 750.01L646.94 745.73L648.48 741.18L650.02 736.37L651.56 731.31L653.09 726.02L654.63 720.5L656.17 714.79L657.71 708.89L659.25 702.83L660.78 696.64L662.32 690.34L663.86 683.94L665.4 677.49L666.94 671L668.47 664.51L670.01 658.04L671.55 651.62L673.09 645.28L674.63 639.04L676.16 632.92L677.7 626.95L679.24 621.15L680.78 615.53L682.32 610.12L683.85 604.93L685.39 599.97L686.93 595.25L688.47 590.78L690.01 586.56L691.54 582.59L693.08 578.88L694.62 575.44L696.16 572.24L697.69 569.3L699.23 566.61L700.77 564.17L702.31 561.96L703.85 559.99L705.38 558.24L706.92 556.71L708.46 555.41L710 554.31L711.54 553.42L713.07 552.73L714.61 552.24L716.15 551.94L717.69 551.85L719.22 551.96L720.76 552.32L722.29 552.91L723.83 553.74L725.37 554.8L726.9 556.1L728.44 557.62L729.97 559.36L731.51 561.33L733.04 563.51L734.58 565.9L736.12 568.5L737.65 571.29L739.19 574.27L740.72 577.42L742.26 580.74L743.79 584.22L745.33 587.83L746.87 591.58L748.4 595.44L749.94 599.41L751.47 603.45L753.01 607.56L754.54 611.73L756.08 615.92L757.61 620.14L759.15 624.35L760.69 628.54L762.22 632.7L763.76 636.81L765.29 640.86L766.83 644.82L768.36 648.69L769.9 652.45L771.44 656.1L772.97 659.62L774.51 663.01L776.04 666.25L777.58 669.34L779.11 672.28L780.65 675.05L782.19 677.67L783.72 680.13L785.26 682.42L786.79 684.55L788.33 686.52L789.86 688.32L791.4 689.97L792.94 691.46L794.47 692.8L796.01 693.99L797.54 695.03L799.08 695.93L800.61 696.68L802.15 697.3L803.69 697.77L805.22 698.11L806.76 698.31L808.29 698.38L809.82 698.3L811.35 698.07L812.88 697.69L814.4 697.15L815.93 696.46L817.46 695.62L818.99 694.63L820.52 693.48L822.04 692.19L823.57 690.75L825.1 689.17L826.63 687.45L828.15 685.59L829.68 683.59L831.21 681.48L832.74 679.24L834.27 676.88L835.79 674.43L837.32 671.87L838.85 669.23L840.38 666.52L841.91 663.74L843.43 660.91L844.96 658.05L846.49 655.16L848.02 652.25L849.55 649.35L851.07 646.46L852.6 643.6L854.13 640.78L855.66 638.01L857.18 635.3L858.71 632.67L860.24 630.12L861.77 627.66L863.3 625.3L864.82 623.04L866.35 620.89L867.88 618.86L869.41 616.94L870.94 615.14L872.46 613.46L873.99 611.89L875.52 610.44L877.05 609.11L878.58 607.88L880.1 606.77L881.63 605.76L883.16 604.85L884.69 604.05L886.21 603.34L887.74 602.72L889.27 602.19L890.8 601.75L892.33 601.4L893.85 601.12L895.38 600.92L896.91 600.81L898.44 600.77L899.97 600.82L901.51 600.96L903.05 601.21L904.58 601.55L906.12 601.99L907.65 602.52L909.19 603.14L910.73 603.86L912.26 604.66L913.8 605.56L915.33 606.53L916.87 607.59L918.41 608.72L919.94 609.92L921.48 611.2L923.01 612.55L924.55 613.95L926.09 615.42L927.62 616.93L929.16 618.5L930.69 620.11L932.23 621.76L933.76 623.45L935.3 625.16L936.84 626.9L938.37 628.66L939.91 630.43L941.44 632.21L942.98 633.99L944.52 635.77L946.05 637.54L947.59 639.3L949.12 641.04L950.66 642.75L952.2 644.44L953.73 646.09L955.27 647.7L956.8 649.26L958.34 650.78L959.88 652.25L961.41 653.65L962.95 655L964.48 656.27L966.02 657.48L967.56 658.61L969.09 659.67L970.63 660.64L972.16 661.53L973.7 662.34L975.24 663.05L976.77 663.68L978.31 664.21L979.84 664.65L981.38 664.99L982.91 665.23L984.45 665.38L985.99 665.43L987.5 665.39L989.02 665.29L990.53 665.11L992.04 664.86L993.56 664.54L995.07 664.15L996.59 663.7L998.1 663.18L999.62 662.59L1001.13 661.94L1002.64 661.23L1004.16 660.46L1005.67 659.64L1007.19 658.76L1008.7 657.84L1010.21 656.86L1011.73 655.84L1013.24 654.78L1014.76 653.68L1016.27 652.55L1017.79 651.38L1019.3 650.19L1020.81 648.97L1022.33 647.74L1023.84 646.48L1025.36 645.22L1026.87 643.95L1028.39 642.67L1029.9 641.4L1031.41 640.12L1032.93 638.86L1034.44 637.61L1035.96 636.37L1037.47 635.16L1038.99 633.96L1040.5 632.8L1042.01 631.66L1043.53 630.56L1045.04 629.5L1046.56 628.48L1048.07 627.51L1049.59 626.58L1051.1 625.7L1052.61 624.88L1054.13 624.11L1055.64 623.4L1057.16 622.75L1058.67 622.17L1060.19 621.65L1061.7 621.19L1063.21 620.8L1064.73 620.48L1066.24 620.24L1067.76 620.06L1069.27 619.95L1070.79 619.91L1072.32 619.95L1073.86 620.04L1075.4 620.2L1076.94 620.43L1078.48 620.71L1080.02 621.06L1081.56 621.47L1083.1 621.93L1084.64 622.46L1086.18 623.04L1087.72 623.67L1089.26 624.36L1090.8 625.09L1092.33 625.88L1093.87 626.7L1095.41 627.57L1096.95 628.47L1098.49 629.41L1100.03 630.39L1101.57 631.39L1103.11 632.42L1104.65 633.46L1106.19 634.53L1107.73 635.61L1109.27 636.71L1110.8 637.81L1112.34 638.91L1113.88 640.02L1115.42 641.12L1116.96 642.21L1118.5 643.29L1120.04 644.36L1121.58 645.41L1123.12 646.44L1124.66 647.44L1126.2 648.41L1127.74 649.35L1129.28 650.26L1130.81 651.13L1132.35 651.95L1133.89 652.73L1135.43 653.47L1136.97 654.15L1138.51 654.79L1140.05 655.37L1141.59 655.89L1143.13 656.36L1144.67 656.77L1146.21 657.11L1147.75 657.4L1149.29 657.62L1150.82 657.78L1152.36 657.88L1153.9 657.91L1155.44 657.88L1156.98 657.79L1158.52 657.65L1160.06 657.44L1161.6 657.17L1163.13 656.85L1164.67 656.47L1166.21 656.04L1167.75 655.56L1169.29 655.02L1170.83 654.43L1172.37 653.79L1173.91 653.1L1175.44 652.37L1176.98 651.6L1178.52 650.79L1180.06 649.94L1181.6 649.05L1183.14 648.13L1184.68 647.19L1186.21 646.21L1187.75 645.21L1189.29 644.19L1190.83 643.16L1192.37 642.1L1193.91 641.04L1195.45 639.97L1196.98 638.89L1198.52 637.82L1200.06 636.74L1201.6 635.67L1203.14 634.61L1204.68 633.55L1206.22 632.52L1207.75 631.5L1209.29 630.5L1210.83 629.52L1212.37 628.58L1213.91 627.66L1215.45 626.77L1216.99 625.92L1218.53 625.11L1220.06 624.34L1221.6 623.61L1223.14 622.92L1224.68 622.28L1226.22 621.69L1227.76 621.16L1229.3 620.67L1230.83 620.24L1232.37 619.86L1233.91 619.54L1235.45 619.27L1236.99 619.06L1238.53 618.92L1240.07 618.83L1241.6 618.8L1243.12 618.83L1244.64 618.92L1246.16 619.07L1247.67 619.29L1249.19 619.56L1250.71 619.89L1252.23 620.28L1253.74 620.73L1255.26 621.23L1256.78 621.79L1258.3 622.4L1259.81 623.06L1261.33 623.77L1262.85 624.52L1264.37 625.32L1265.89 626.17L1267.4 627.05L1268.92 627.98L1270.44 628.93L1271.96 629.92L1273.47 630.94L1274.99 631.99L1276.51 633.06L1278.03 634.15L1279.54 635.26L1281.06 636.38L1282.58 637.52L1284.1 638.66L1285.61 639.81L1287.13 640.96L1288.65 642.1L1290.17 643.25L1291.68 644.38L1293.2 645.5L1294.72 646.61L1296.24 647.7L1297.75 648.77L1299.27 649.82L1300.79 650.84L1302.31 651.83L1303.82 652.79L1305.34 653.71L1306.86 654.59L1308.38 655.44L1309.89 656.24L1311.41 657L1312.93 657.71L1314.45 658.37L1315.96 658.98L1317.48 659.53L1319 660.04L1320.52 660.48L1322.03 660.87L1323.55 661.2L1325.07 661.48L1326.59 661.69L1328.1 661.84L1329.62 661.93L1331.14 661.96L1332.68 661.93L1334.22 661.84L1335.75 661.68L1337.29 661.46L1338.83 661.17L1340.37 660.83L1341.91 660.42L1343.44 659.96L1344.98 659.44L1346.52 658.86L1348.06 658.22L1349.6 657.53L1351.13 656.79L1352.67 656.01L1354.21 655.17L1355.75 654.29L1357.29 653.37L1358.82 652.4L1360.36 651.4L1361.9 650.37L1363.44 649.3L1364.98 648.2L1366.52 647.08L1368.05 645.94L1369.59 644.77L1371.13 643.59L1372.67 642.4L1374.21 641.19L1375.74 639.98L1377.28 638.77L1378.82 637.55L1380.36 636.34L1381.9 635.14L1383.43 633.94L1384.97 632.76L1386.51 631.6L1388.05 630.45L1389.59 629.33L1391.12 628.23L1392.66 627.17L1394.2 626.13L1395.74 625.13L1397.28 624.17L1398.82 623.24L1400.35 622.36L1401.89 621.53L1403.43 620.74L1404.97 620L1406.51 619.31L1408.04 618.68L1409.58 618.1L1411.12 617.57L1412.66 617.11L1414.2 616.7L1415.73 616.36L1417.27 616.07L1418.81 615.85L1420.35 615.7L1421.89 615.6L1423.42 615.57L1424.95 615.6L1426.47 615.7L1427.99 615.86L1429.52 616.08L1431.04 616.37L1432.56 616.72L1434.08 617.14L1435.61 617.61L1437.13 618.14L1438.65 618.73L1440.18 619.38L1441.7 620.08L1443.22 620.83L1444.74 621.63L1446.27 622.48L1447.79 623.38L1449.31 624.32L1450.84 625.3L1452.36 626.32L1453.88 627.37L1455.4 628.46L1456.93 629.57L1458.45 630.72L1459.97 631.88L1461.49 633.07L1463.02 634.27L1464.54 635.48L1466.06 636.71L1467.59 637.94L1469.11 639.18L1470.63 640.41L1472.15 641.65L1473.68 642.87L1475.2 644.09L1476.72 645.29L1478.25 646.47L1479.77 647.64L1481.29 648.78L1482.81 649.9L1484.34 650.98L1485.86 652.04L1487.38 653.05L1488.91 654.04L1490.43 654.98L1491.95 655.87L1493.47 656.72L1495 657.53L1496.52 658.28L1498.04 658.98L1499.56 659.62L1501.09 660.21L1502.61 660.75L1504.13 661.22L1505.66 661.63L1507.18 661.98L1508.7 662.27L1510.22 662.5L1511.75 662.66L1513.27 662.75L1514.79 662.79L1516.33 662.76L1517.86 662.67L1519.39 662.52L1520.92 662.31L1522.46 662.05L1523.99 661.73L1525.52 661.35L1527.06 660.91L1528.59 660.42L1530.12 659.88L1531.65 659.29L1533.19 658.64L1534.72 657.95L1536.25 657.21L1537.79 656.43L1539.32 655.6L1540.85 654.73L1542.39 653.83L1543.92 652.89L1545.45 651.92L1546.98 650.91L1548.52 649.88L1550.05 648.82L1551.58 647.74L1553.12 646.64L1554.65 645.53L1556.18 644.4L1557.71 643.26L1559.25 642.11L1560.78 640.96L1562.31 639.8L1563.85 638.65L1565.38 637.5L1566.91 636.36L1568.44 635.24L1569.98 634.12L1571.51 633.02L1573.04 631.94L1574.58 630.88L1576.11 629.85L1577.64 628.85L1579.18 627.87L1580.71 626.93L1582.24 626.03L1583.77 625.16L1585.31 624.34L1586.84 623.55L1588.37 622.81L1589.91 622.12L1591.44 621.48L1592.97 620.88L1594.5 620.34L1596.04 619.85L1597.57 619.42L1599.1 619.04L1600.64 618.71L1602.17 618.45L1603.7 618.24L1605.23 618.09L1606.77 618.01L1608.3 617.98L1609.83 618L1611.37 618.08L1612.9 618.21L1614.43 618.4L1615.97 618.64L1617.5 618.93L1619.03 619.27L1620.56 619.65L1622.1 620.09L1623.63 620.58L1625.16 621.11L1626.7 621.69L1628.23 622.31L1629.76 622.97L1631.29 623.67L1632.83 624.41L1634.36 625.18L1635.89 625.99L1637.43 626.84L1638.96 627.71L1640.49 628.61L1642.02 629.53L1643.56 630.48L1645.09 631.44L1646.62 632.43L1648.16 633.43L1649.69 634.44L1651.22 635.46L1652.75 636.48L1654.29 637.52L1655.82 638.55L1657.35 639.58L1658.89 640.61L1660.42 641.63L1661.95 642.64L1663.49 643.64L1665.02 644.62L1666.55 645.59L1668.08 646.53L1669.62 647.46L1671.15 648.36L1672.68 649.23L1674.22 650.07L1675.75 650.88L1677.28 651.66L1678.81 652.4L1680.35 653.1L1681.88 653.76L1683.41 654.38L1684.95 654.96L1686.48 655.49L1688.01 655.97L1689.54 656.41L1691.08 656.8L1692.61 657.14L1694.14 657.43L1695.68 657.66L1697.21 657.85L1698.74 657.98L1700.28 658.06L1701.81 658.09L1703.33 658.07L1704.85 658.01L1706.38 657.91L1707.9 657.77L1709.42 657.59L1710.95 657.37L1712.47 657.11L1713.99 656.81L1715.52 656.48L1717.04 656.11L1718.56 655.7L1720.09 655.26L1721.61 654.79L1723.13 654.28L1724.66 653.74L1726.18 653.17L1727.7 652.57L1729.23 651.95L1730.75 651.29L1732.27 650.62L1733.8 649.92L1735.32 649.2L1736.84 648.46L1738.36 647.7L1739.89 646.93L1741.41 646.14L1742.93 645.34L1744.46 644.52L1745.98 643.7L1747.5 642.88L1749.03 642.05L1750.55 641.21L1752.07 640.37L1753.6 639.54L1755.12 638.71L1756.64 637.88L1758.17 637.06L1759.69 636.25L1761.21 635.45L1762.74 634.66L1764.26 633.89L1765.78 633.13L1767.31 632.39L1768.83 631.67L1770.35 630.97L1771.88 630.29L1773.4 629.64L1774.92 629.01L1776.44 628.42L1777.97 627.85L1779.49 627.31L1781.01 626.8L1782.54 626.33L1784.06 625.88L1785.58 625.48L1787.11 625.11L1788.63 624.77L1790.15 624.48L1791.68 624.22L1793.2 624L1794.72 623.82L1796.25 623.68L1797.77 623.58L1799.29 623.52L1800.82 623.5L1802.35 623.51L1803.89 623.57L1805.43 623.66L1806.97 623.78L1808.5 623.94L1810.04 624.13L1811.58 624.36L1813.12 624.62L1814.65 624.91L1816.19 625.24L1817.73 625.59L1819.27 625.98L1820.8 626.4L1822.34 626.84L1823.88 627.31L1825.42 627.81L1826.96 628.33L1828.49 628.88L1830.03 629.45L1831.57 630.04L1833.11 630.65L1834.64 631.27L1836.18 631.92L1837.72 632.57L1839.26 633.24L1840.79 633.92L1842.33 634.62L1843.87 635.31L1845.41 636.02L1846.94 636.73L1848.48 637.44L1850.02 638.15L1851.56 638.87L1853.09 639.58L1854.63 640.28L1856.17 640.98L1857.71 641.67L1859.24 642.35L1860.78 643.02L1862.32 643.68L1863.86 644.32L1865.4 644.95L1866.93 645.56L1868.47 646.15L1870.01 646.71L1871.55 647.26L1873.08 647.78L1874.62 648.28L1876.16 648.75L1877.7 649.2L1879.23 649.61L1880.77 650L1882.31 650.36L1883.85 650.68L1885.38 650.98L1886.92 651.24L1888.46 651.46L1890 651.66L1891.53 651.81L1893.07 651.94L1894.61 652.03L1896.15 652.08L1897.68 652.1L1899.22 652.08L1900.75 652.04L1902.28 651.97L1903.82 651.87L1905.35 651.74L1906.88 651.58L1908.41 651.39L1909.95 651.18L1911.48 650.94L1913.01 650.67L1914.54 650.38L1916.08 650.07L1917.61 649.73L1919.14 649.36L1920.68 648.98L1922.21 648.57L1923.74 648.14L1925.27 647.7L1926.81 647.23L1928.34 646.75L1929.87 646.25L1931.41 645.74L1932.94 645.22L1934.47 644.68L1936 644.13L1937.54 643.58L1939.07 643.01L1940.6 642.44L1942.13 641.86L1943.67 641.28L1945.2 640.7L1946.73 640.12L1948.27 639.54L1949.8 638.96L1951.33 638.38L1952.86 637.81L1954.4 637.25L1955.93 636.69L1957.46 636.14L1958.99 635.6L1960.53 635.08L1962.06 634.57L1963.59 634.07L1965.13 633.59L1966.66 633.12L1968.19 632.68L1969.72 632.25L1971.26 631.84L1972.79 631.46L1974.32 631.09L1975.85 630.75L1977.39 630.44L1978.92 630.15L1980.45 629.88L1981.99 629.64L1983.52 629.43L1985.05 629.24L1986.58 629.08L1988.12 628.96L1989.65 628.85L1991.18 628.78L1992.72 628.74L1994.25 628.72L1995.78 628.74L1997.3 628.77L1998.83 628.84L2000.36 628.92L2001.89 629.04L2003.42 629.17L2004.94 629.33L2006.47 629.52L2008 629.73L2009.53 629.96L2011.05 630.21L2012.58 630.48L2014.11 630.77L2015.64 631.08L2017.17 631.41L2018.69 631.76L2020.22 632.13L2021.75 632.51L2023.28 632.9L2024.81 633.31L2026.33 633.73L2027.86 634.16L2029.39 634.6L2030.92 635.05L2032.45 635.51L2033.97 635.97L2035.5 636.44L2037.03 636.91L2038.56 637.38L2040.09 637.86L2041.61 638.33L2043.14 638.8L2044.67 639.27L2046.2 639.73L2047.72 640.19L2049.25 640.64L2050.78 641.08L2052.31 641.51L2053.84 641.93L2055.36 642.34L2056.89 642.74L2058.42 643.12L2059.95 643.48L2061.48 643.83L2063 644.16L2064.53 644.47L2066.06 644.76L2067.59 645.04L2069.12 645.29L2070.64 645.52L2072.17 645.72L2073.7 645.91L2075.23 646.07L2076.75 646.21L2078.28 646.32L2079.81 646.41L2081.34 646.47L2082.87 646.51L2084.39 646.52L2085.92 646.51L2087.45 646.49L2088.98 646.45L2090.51 646.4L2092.03 646.34L2093.56 646.26L2095.09 646.17L2096.62 646.06L2098.15 645.94L2099.67 645.81L2101.2 645.67L2102.73 645.51L2104.26 645.34L2105.78 645.16L2107.31 644.97L2108.84 644.77L2110.37 644.56L2111.9 644.34L2113.42 644.12L2114.95 643.88L2116.48 643.64" stroke="#008000" stroke-width="3"/>
<path d="M283 1131L315 1131M338.5 1131L343.5 1131M367.1 1131L399.9 1131M423.8 1131.12L428.8 1130.88M446.3 1128.75L473.16 1120.15M489.48 1108.84L493.36 1105.69M507.54 1092.22L527.52 1069.66M540.8 1052.29L543.89 1048.36M553.73 1036.36L578.44 1024.54M592.71 1031.88L596.41 1035.24M608.53 1051.83L622.92 1079.33M630.46 1097.48L632.57 1102.01M641.4 1119.08L658.59 1144.86M674.06 1154.96L680.51 1154.96M694.47 1144.86L711.66 1119.08M720.27 1100.93L722.39 1096.4M732.5 1074.6L746 1046.7M755.53 1030.7L758.85 1026.97M773.3 1015.94L779.75 1015.94L801.88 1036.36M811.46 1053.48L813.79 1057.9M822.29 1075.03L834.97 1104.04M843.57 1121.88L846.14 1126.17M858.18 1142.72L884.39 1150.67M897.92 1137.83L900.95 1133.85M911.25 1115.43L925.86 1087.28M934.3 1070.76L936.76 1066.41M947.35 1049.25L972.06 1026.69M986.73 1029.61L990.91 1032.35M1003.86 1047.53L1024.27 1082.12M1034.49 1099.16L1037.26 1103.33M1049.84 1120.58L1073.05 1138.42M1087.51 1134.42L1091.68 1131.67M1104.63 1117.58L1124.19 1091.58M1133.89 1075.55L1136.83 1071.51M1150.83 1055.05L1180.48 1042.8M1193.94 1048.83L1197.96 1051.81M1212.89 1066.87L1234.38 1092.22L1260.81 1115.43M1282.39 1120.62L1287.36 1120.11M1302.71 1111.13L1324.19 1092.22M1336.7 1079.24L1340.48 1075.98M1353.63 1066.87L1384.36 1057.2M1399.72 1062.13L1404.23 1064.3M1419.17 1073.96L1441.73 1090.07M1454.51 1098.67L1459.03 1100.81M1476.11 1106.4L1492.22 1106.4L1519.08 1098.02M1533.46 1089.17L1537.79 1086.68M1554.1 1077.83L1581.39 1069.23M1602.98 1068.69L1607.94 1069.34M1625.87 1075.03L1651.22 1085.78M1666.88 1091.84L1671.6 1093.47M1688.58 1098.67L1718.01 1098.67M1732.38 1095.08L1737.17 1093.67M1754.54 1087.92L1787.2 1076.54M1809.42 1072.2L1814.41 1071.84M1831.9 1073.31L1858.75 1079.76M1873.19 1086.58L1877.84 1088.41M1894.64 1093.94L1921.07 1099.1M1937.95 1099.13L1942.86 1098.2M1959.74 1091.79L1985.53 1082.98M2003.53 1075.06L2008.35 1073.72M2029.57 1070.73L2042.47 1071.16L2065.03 1078.26M2078.21 1083.27L2082.79 1085.27M2099.41 1093.3L2116.6 1098.67" stroke="#008000" stroke-width="8.4" stroke-linecap="round"/>
<path d="M283 1424.75L434.57 1424.75L435.79 1424.53L437.01 1423.86L438.23 1422.77L439.46 1421.28L440.68 1419.42L441.9 1417.23L443.12 1414.76L444.35 1412.07L445.57 1409.22L446.79 1406.28L448.01 1403.3L449.24 1400.35L450.46 1397.51L451.68 1394.83L452.9 1392.38L454.12 1390.21L455.35 1388.37L456.57 1386.9L457.79 1385.83L459.01 1385.19L460.24 1385L461.46 1385.29L462.68 1386.01L463.9 1387.16L465.13 1388.7L466.35 1390.57L467.57 1392.74L468.79 1395.14L470.01 1397.73L471.24 1400.42L472.46 1403.16L473.68 1405.88L474.9 1408.52L476.13 1411.02L477.35 1413.31L478.57 1415.34L479.79 1417.07L481.02 1418.47L482.24 1419.5L483.46 1420.13L484.68 1420.37L485.91 1420.22L487.13 1419.68L488.35 1418.71L489.57 1417.33L490.79 1415.59L492.02 1413.53L493.24 1411.2L494.46 1408.68L495.68 1406.03L496.91 1403.33L498.13 1400.63L499.35 1398.01L500.57 1395.54L501.8 1393.28L503.02 1391.28L504.24 1389.6L505.46 1388.27L506.68 1387.33L507.91 1386.79L509.13 1386.63L510.35 1386.81L511.57 1387.33L512.8 1388.19L514.02 1389.35L515.24 1390.8L516.46 1392.48L517.69 1394.37L518.91 1396.42L520.13 1398.58L521.35 1400.79L522.57 1403.01L523.8 1405.19L525.02 1407.27L526.24 1409.2L527.46 1410.95L528.69 1412.47L529.91 1413.73L531.13 1414.7L532.35 1415.35L533.58 1415.68L534.8 1415.69L536.02 1415.44L537.24 1414.87L538.46 1414L539.69 1412.85L540.91 1411.43L542.13 1409.78L543.35 1407.94L544.58 1405.95L545.8 1403.84L547.02 1401.67L548.24 1399.47L549.47 1397.31L550.69 1395.22L551.91 1393.24L553.13 1391.44L554.36 1389.83L555.58 1388.46L556.8 1387.35L558.02 1386.53L559.24 1386.02L560.47 1385.83L561.69 1386.01L562.91 1386.66L564.13 1387.68L565.36 1389.03L566.58 1390.69L567.8 1392.61L569.02 1394.74L570.25 1397.02L571.47 1399.38L572.69 1401.77L573.91 1404.12L575.13 1406.38L576.36 1408.47L577.58 1410.36L578.8 1411.98L580.02 1413.3L581.25 1414.29L582.47 1414.92L583.69 1415.17L584.91 1415.01L586.14 1414.5L587.36 1413.66L588.58 1412.54L589.8 1411.15L591.02 1409.54L592.25 1407.75L593.47 1405.83L594.69 1403.82L595.91 1401.77L597.14 1399.74L598.36 1397.77L599.58 1395.92L600.8 1394.22L602.03 1392.72L603.25 1391.46L604.47 1390.45L605.69 1389.72L606.91 1389.28L608.14 1389.15L609.36 1389.25L610.58 1389.63L611.8 1390.29L613.03 1391.22L614.25 1392.39L615.47 1393.77L616.69 1395.33L617.92 1397.03L619.14 1398.82L620.36 1400.66L621.58 1402.5L622.8 1404.31L624.03 1406.03L625.25 1407.62L626.47 1409.05L627.69 1410.28L628.92 1411.28L630.14 1412.03L631.36 1412.51L632.58 1412.7L633.81 1412.61L635.03 1412.23L636.25 1411.6L637.47 1410.72L638.7 1409.62L639.92 1408.33L641.14 1406.88L642.36 1405.31L643.58 1403.64L644.81 1401.94L646.03 1400.22L647.25 1398.55L648.47 1396.94L649.7 1395.45L650.92 1394.1L652.14 1392.93L653.36 1391.96L654.59 1391.21L655.81 1390.7L657.03 1390.44L658.25 1390.42L659.47 1390.67L660.7 1391.15L661.92 1391.88L663.14 1392.81L664.36 1393.93L665.59 1395.21L666.81 1396.61L668.03 1398.1L669.25 1399.64L670.48 1401.2L671.7 1402.72L672.92 1404.19L674.14 1405.56L675.36 1406.79L676.59 1407.87L677.81 1408.76L679.03 1409.45L680.25 1409.92L681.48 1410.16L682.7 1410.18L683.92 1410.04L685.14 1409.69L686.37 1409.15L687.59 1408.43L688.81 1407.55L690.03 1406.52L691.25 1405.37L692.48 1404.13L693.7 1402.82L694.92 1401.47L696.14 1400.12L697.37 1398.78L698.59 1397.49L699.81 1396.29L701.03 1395.18L702.26 1394.21L703.48 1393.39L704.7 1392.73L705.92 1392.26L707.15 1391.98L708.37 1391.89L709.59 1392.03L710.81 1392.4L712.03 1393.01L713.26 1393.83L714.48 1394.84L715.7 1396.02L716.92 1397.33L718.15 1398.73L719.37 1400.2L720.59 1401.69L721.81 1403.16L723.04 1404.57L724.26 1405.89L725.48 1407.08L726.7 1408.11L727.92 1408.96L729.15 1409.59L730.37 1410L731.59 1410.18L732.81 1410.1L734.04 1409.81L735.26 1409.32L736.48 1408.66L737.7 1407.84L738.93 1406.88L740.15 1405.8L741.37 1404.62L742.59 1403.38L743.81 1402.1L745.04 1400.81L746.26 1399.54L747.48 1398.32L748.7 1397.18L749.93 1396.14L751.15 1395.22L752.37 1394.45L753.59 1393.83L754.82 1393.39L756.04 1393.13L757.26 1393.05L758.48 1393.17L759.7 1393.49L760.93 1394L762.15 1394.68L763.37 1395.53L764.59 1396.5L765.82 1397.59L767.04 1398.75L768.26 1399.97L769.48 1401.2L770.71 1402.42L771.93 1403.6L773.15 1404.7L774.37 1405.7L775.59 1406.58L776.82 1407.32L778.04 1407.89L779.26 1408.28L780.48 1408.49L781.71 1408.53L782.93 1408.39L784.15 1408.04L785.37 1407.5L786.6 1406.79L787.82 1405.92L789.04 1404.92L790.26 1403.81L791.49 1402.64L792.71 1401.42L793.93 1400.19L795.15 1399L796.37 1397.86L797.6 1396.82L798.82 1395.89L800.04 1395.11L801.26 1394.5L802.49 1394.07L803.71 1393.84L804.93 1393.8L806.15 1393.95L807.38 1394.26L808.6 1394.74L809.82 1395.36L811.04 1396.12L812.26 1396.99L813.49 1397.96L814.71 1399L815.93 1400.09L817.15 1401.2L818.38 1402.3L819.6 1403.37L820.82 1404.39L822.04 1405.32L823.27 1406.15L824.49 1406.86L825.71 1407.43L826.93 1407.85L828.15 1408.1L829.38 1408.19L830.6 1408.12L831.82 1407.9L833.04 1407.52L834.27 1407L835.49 1406.35L836.71 1405.57L837.93 1404.7L839.16 1403.75L840.38 1402.74L841.6 1401.69L842.82 1400.62L844.04 1399.57L845.27 1398.55L846.49 1397.59L847.71 1396.7L848.93 1395.92L850.16 1395.25L851.38 1394.71L852.6 1394.31L853.82 1394.06L855.05 1393.98L856.27 1394.05L857.49 1394.29L858.71 1394.7L859.94 1395.25L861.16 1395.94L862.38 1396.76L863.6 1397.68L864.82 1398.67L866.05 1399.73L867.27 1400.82L868.49 1401.91L869.71 1402.99L870.94 1404.01L872.16 1404.97L873.38 1405.84L874.6 1406.6L875.83 1407.22L877.05 1407.7L878.27 1408.02L879.49 1408.16L880.71 1408.13L881.94 1407.91L883.16 1407.5L884.38 1406.93L885.6 1406.2L886.83 1405.34L888.05 1404.37L889.27 1403.31L890.49 1402.2L891.72 1401.06L892.94 1399.93L894.16 1398.83L895.38 1397.8L896.6 1396.86L897.83 1396.03L899.05 1395.34L900.27 1394.81L901.49 1394.44L902.72 1394.26L903.94 1394.25L905.16 1394.39L906.38 1394.68L907.61 1395.1L908.83 1395.65L910.05 1396.32L911.27 1397.08L912.49 1397.92L913.72 1398.83L914.94 1399.77L916.16 1400.74L917.38 1401.71L918.61 1402.66L919.83 1403.57L921.05 1404.41L922.27 1405.18L923.5 1405.85L924.72 1406.41L925.94 1406.85L927.16 1407.16L928.38 1407.33L929.61 1407.36L930.83 1407.26L932.05 1407L933.27 1406.58L934.5 1406.02L935.72 1405.33L936.94 1404.53L938.16 1403.64L939.39 1402.68L940.61 1401.68L941.83 1400.67L943.05 1399.66L944.28 1398.69L945.5 1397.79L946.72 1396.96L947.94 1396.24L949.16 1395.65L950.39 1395.19L951.61 1394.88L952.83 1394.73L954.05 1394.74L955.28 1394.91L956.5 1395.24L957.72 1395.72L958.94 1396.33L960.17 1397.07L961.39 1397.9L962.61 1398.81L963.83 1399.78L965.05 1400.79L966.28 1401.79L967.5 1402.78L968.72 1403.72L969.94 1404.6L971.17 1405.38L972.39 1406.06L973.61 1406.61L974.83 1407.01L976.06 1407.27L977.28 1407.36L978.5 1407.31L979.72 1407.13L980.94 1406.81L982.17 1406.37L983.39 1405.82L984.61 1405.17L985.83 1404.44L987.06 1403.63L988.28 1402.78L989.5 1401.89L990.72 1400.98L991.95 1400.09L993.17 1399.22L994.39 1398.39L995.61 1397.63L996.83 1396.94L998.06 1396.36L999.28 1395.88L1000.5 1395.51L1001.72 1395.27L1002.95 1395.17L1004.17 1395.19L1005.39 1395.36L1006.61 1395.67L1007.84 1396.11L1009.06 1396.66L1010.28 1397.33L1011.5 1398.08L1012.73 1398.91L1013.95 1399.8L1015.17 1400.71L1016.39 1401.64L1017.61 1402.56L1018.84 1403.45L1020.06 1404.29L1021.28 1405.06L1022.5 1405.74L1023.73 1406.32L1024.95 1406.78L1026.17 1407.11L1027.39 1407.31L1028.62 1407.37L1029.84 1407.23L1031.06 1406.95L1032.28 1406.54L1033.5 1406.01L1034.73 1405.38L1035.95 1404.65L1037.17 1403.85L1038.39 1403L1039.62 1402.12L1040.84 1401.23L1042.06 1400.35L1043.28 1399.51L1044.51 1398.73L1045.73 1398.01L1046.95 1397.39L1048.17 1396.86L1049.39 1396.45L1050.62 1396.17L1051.84 1396.01L1053.06 1395.97L1054.28 1396.06L1055.51 1396.27L1056.73 1396.58L1057.95 1396.99L1059.17 1397.48L1060.4 1398.05L1061.62 1398.69L1062.84 1399.36L1064.06 1400.06L1065.28 1400.78L1066.51 1401.49L1067.73 1402.18L1068.95 1402.83L1070.17 1403.43L1071.4 1403.96L1072.62 1404.42L1073.84 1404.79L1075.06 1405.07L1076.29 1405.25L1077.51 1405.34L1078.73 1405.36L1079.95 1405.27L1081.17 1405.06L1082.4 1404.74L1083.62 1404.32L1084.84 1403.8L1086.06 1403.21L1087.29 1402.56L1088.51 1401.86L1089.73 1401.15L1090.95 1400.43L1092.18 1399.73L1093.4 1399.06L1094.62 1398.46L1095.84 1397.92L1097.07 1397.47L1098.29 1397.11L1099.51 1396.87L1100.73 1396.74L1101.95 1396.72L1103.18 1396.81L1104.4 1397L1105.62 1397.28L1106.84 1397.65L1108.07 1398.09L1109.29 1398.6L1110.51 1399.17L1111.73 1399.77L1112.96 1400.4L1114.18 1401.05L1115.4 1401.69L1116.62 1402.31L1117.84 1402.9L1119.07 1403.44L1120.29 1403.92L1121.51 1404.33L1122.73 1404.67L1123.96 1404.91L1125.18 1405.06L1126.4 1405.12L1127.62 1405.07L1128.85 1404.93L1130.07 1404.7L1131.29 1404.37L1132.51 1403.97L1133.73 1403.49L1134.96 1402.96L1136.18 1402.38L1137.4 1401.77L1138.62 1401.14L1139.85 1400.52L1141.07 1399.9L1142.29 1399.32L1143.51 1398.78L1144.74 1398.29L1145.96 1397.87L1147.18 1397.53L1148.4 1397.27L1149.62 1397.1L1150.85 1397.03L1152.07 1397.06L1153.29 1397.18L1154.51 1397.39L1155.74 1397.69L1156.96 1398.07L1158.18 1398.52L1159.4 1399.03L1160.63 1399.58L1161.85 1400.17L1163.07 1400.77L1164.29 1401.38L1165.52 1401.98L1166.74 1402.55L1167.96 1403.08L1169.18 1403.57L1170.4 1403.99L1171.63 1404.34L1172.85 1404.61L1174.07 1404.79L1175.29 1404.88L1176.52 1404.88L1177.74 1404.79L1178.96 1404.6L1180.18 1404.33L1181.41 1403.97L1182.63 1403.55L1183.85 1403.06L1185.07 1402.52L1186.29 1401.95L1187.52 1401.35L1188.74 1400.75L1189.96 1400.15L1191.18 1399.57L1192.41 1399.02L1193.63 1398.52L1194.85 1398.08L1196.07 1397.72L1197.3 1397.43L1198.52 1397.22L1199.74 1397.11L1200.96 1397.09L1202.18 1397.17L1203.41 1397.33L1204.63 1397.59L1205.85 1397.93L1207.07 1398.34L1208.3 1398.81L1209.52 1399.34L1210.74 1399.91L1211.96 1400.5L1213.19 1401.1L1214.41 1401.71L1215.63 1402.29L1216.85 1402.84L1218.07 1403.35L1219.3 1403.8L1220.52 1404.18L1221.74 1404.48L1222.96 1404.7L1224.19 1404.82L1225.41 1404.86L1226.63 1404.79L1227.85 1404.64L1229.08 1404.4L1230.3 1404.07L1231.52 1403.66L1232.74 1403.19L1233.96 1402.67L1235.19 1402.1L1236.41 1401.51L1237.63 1400.9L1238.85 1400.29L1240.08 1399.7L1241.3 1399.13L1242.52 1398.61L1243.74 1398.15L1244.97 1397.75L1246.19 1397.43L1247.41 1397.19L1248.63 1397.05L1249.86 1396.99L1251.08 1397.03L1252.3 1397.17L1253.52 1397.39L1254.74 1397.7L1255.97 1398.09L1257.19 1398.55L1258.41 1399.06L1259.63 1399.62L1260.86 1400.21L1262.08 1400.82L1263.3 1401.43L1264.52 1402.02L1265.75 1402.59L1266.97 1403.12L1268.19 1403.59L1269.41 1404L1270.63 1404.34L1271.86 1404.59L1273.08 1404.75L1274.3 1404.82L1275.52 1404.79L1276.75 1404.67L1277.97 1404.45L1279.19 1404.15L1280.41 1403.77L1281.64 1403.32L1282.86 1402.81L1284.08 1402.26L1285.3 1401.67L1286.52 1401.06L1287.75 1400.44L1288.97 1399.84L1290.19 1399.26L1291.41 1398.72L1292.64 1398.23L1293.86 1397.8L1295.08 1397.45L1296.3 1397.18L1297.53 1396.99L1298.75 1396.91L1299.97 1396.91L1301.19 1397.01L1302.41 1397.21L1303.64 1397.49L1304.86 1397.86L1306.08 1398.29L1307.3 1398.79L1308.53 1399.34L1309.75 1399.92L1310.97 1400.53L1312.19 1401.14L1313.42 1401.75L1314.64 1402.33L1315.86 1402.88L1317.08 1403.38L1318.31 1403.82L1319.53 1404.18L1320.75 1404.47L1321.97 1404.66L1323.19 1404.76L1324.42 1404.76L1325.64 1404.67L1326.86 1404.48L1328.08 1404.21L1329.31 1403.85L1330.53 1403.43L1331.75 1402.94L1332.97 1402.41L1334.2 1401.83L1335.42 1401.24L1336.64 1400.64L1337.86 1400.05L1339.08 1399.48L1340.31 1398.95L1341.53 1398.46L1342.75 1398.04L1343.97 1397.68L1345.2 1397.4L1346.42 1397.21L1347.64 1397.1L1348.86 1397.09L1350.09 1397.17L1351.31 1397.33L1352.53 1397.58L1353.75 1397.91L1354.97 1398.31L1356.2 1398.77L1357.42 1399.27L1358.64 1399.82L1359.86 1400.38L1361.09 1400.96L1362.31 1401.53L1363.53 1402.08L1364.75 1402.6L1365.98 1403.07L1367.2 1403.49L1368.42 1403.85L1369.64 1404.13L1370.86 1404.33L1372.09 1404.45L1373.31 1404.48L1374.53 1404.43L1375.75 1404.29L1376.98 1404.07L1378.2 1403.77L1379.42 1403.41L1380.64 1402.98L1381.87 1402.51L1383.09 1402L1384.31 1401.47L1385.53 1400.93L1386.75 1400.39L1387.98 1399.87L1389.2 1399.37L1390.42 1398.91L1391.64 1398.51L1392.87 1398.16L1394.09 1397.88L1395.31 1397.68L1396.53 1397.56L1397.76 1397.52L1398.98 1397.56L1400.2 1397.68L1401.42 1397.88L1402.65 1398.15L1403.87 1398.49L1405.09 1398.89L1406.31 1399.33L1407.53 1399.81L1408.76 1400.31L1409.98 1400.83L1411.2 1401.35L1412.42 1401.85L1413.65 1402.33L1414.87 1402.78L1416.09 1403.18L1417.31 1403.52L1418.54 1403.8L1419.76 1404L1420.98 1404.14L1422.2 1404.19L1423.42 1404.17L1424.65 1404.07L1425.87 1403.9L1427.09 1403.66L1428.31 1403.35L1429.54 1402.99L1430.76 1402.58L1431.98 1402.13L1433.2 1401.65L1434.43 1401.16L1435.65 1400.67L1436.87 1400.19L1438.09 1399.73L1439.31 1399.3L1440.54 1398.91L1441.76 1398.57L1442.98 1398.29L1444.2 1398.08L1445.43 1397.94L1446.65 1397.87L1447.87 1397.88L1449.09 1397.96L1450.32 1398.11L1451.54 1398.34L1452.76 1398.62L1453.98 1398.96L1455.2 1399.35L1456.43 1399.77L1457.65 1400.23L1458.87 1400.7L1460.09 1401.17L1461.32 1401.64L1462.54 1402.08L1463.76 1402.5L1464.98 1402.89L1466.21 1403.22L1467.43 1403.5L1468.65 1403.71L1469.87 1403.86L1471.1 1403.94L1472.32 1403.95L1473.54 1403.88L1474.76 1403.75L1475.98 1403.55L1477.21 1403.28L1478.43 1402.97L1479.65 1402.6L1480.87 1402.2L1482.1 1401.77L1483.32 1401.32L1484.54 1400.87L1485.76 1400.42L1486.99 1399.99L1488.21 1399.58L1489.43 1399.21L1490.65 1398.88L1491.87 1398.6L1493.1 1398.39L1494.32 1398.23L1495.54 1398.15L1496.76 1398.13L1497.99 1398.18L1499.21 1398.3L1500.43 1398.48L1501.65 1398.72L1502.88 1399.02L1504.1 1399.36L1505.32 1399.74L1506.54 1400.15L1507.76 1400.57L1508.99 1401.01L1510.21 1401.44L1511.43 1401.86L1512.65 1402.25L1513.88 1402.61L1515.1 1402.94L1516.32 1403.21L1517.54 1403.43L1518.77 1403.59L1519.99 1403.68L1521.21 1403.71L1522.43 1403.68L1523.65 1403.57L1524.88 1403.41L1526.1 1403.19L1527.32 1402.92L1528.54 1402.6L1529.77 1402.24L1530.99 1401.86L1532.21 1401.45L1533.43 1401.04L1534.66 1400.63L1535.88 1400.23L1537.1 1399.84L1538.32 1399.49L1539.54 1399.18L1540.77 1398.91L1541.99 1398.69L1543.21 1398.53L1544.43 1398.43L1545.66 1398.39L1546.88 1398.41L1548.1 1398.5L1549.32 1398.65L1550.55 1398.85L1551.77 1399.1L1552.99 1399.4L1554.21 1399.73L1555.44 1400.09L1556.66 1400.48L1557.88 1400.87L1559.1 1401.26L1560.32 1401.65L1561.55 1402.02L1562.77 1402.36L1563.99 1402.67L1565.21 1402.93L1566.44 1403.15L1567.66 1403.32L1568.88 1403.43L1570.1 1403.48L1571.33 1403.48L1572.55 1403.41L1573.77 1403.29L1574.99 1403.11L1576.21 1402.88L1577.44 1402.6L1578.66 1402.29L1579.88 1401.94L1581.1 1401.57L1582.33 1401.19L1583.55 1400.81L1584.77 1400.43L1585.99 1400.06L1587.22 1399.72L1588.44 1399.4L1589.66 1399.13L1590.88 1398.9L1592.1 1398.73L1593.33 1398.6L1594.55 1398.54L1595.77 1398.54L1596.99 1398.59L1598.22 1398.71L1599.44 1398.88L1600.66 1399.1L1601.88 1399.37L1603.11 1399.68L1604.33 1400.02L1605.55 1400.38L1606.77 1400.76L1607.99 1401.14L1609.22 1401.53L1610.44 1401.9L1611.66 1402.24L1612.88 1402.56L1614.11 1402.84L1615.33 1403.08L1616.55 1403.27L1617.77 1403.4L1619 1403.47L1620.22 1403.49L1621.44 1403.44L1622.66 1403.34L1623.89 1403.18L1625.11 1402.97L1626.33 1402.72L1627.55 1402.42L1628.77 1402.09L1630 1401.73L1631.22 1401.36L1632.44 1400.98L1633.66 1400.6L1634.89 1400.23L1636.11 1399.88L1637.33 1399.56L1638.55 1399.28L1639.78 1399.03L1641 1398.84L1642.22 1398.7L1643.44 1398.62L1644.66 1398.59L1645.89 1398.63L1647.11 1398.72L1648.33 1398.87L1649.55 1399.07L1650.78 1399.32L1652 1399.61L1653.22 1399.93L1654.44 1400.29L1655.67 1400.66L1656.89 1401.03L1658.11 1401.41L1659.33 1401.78L1660.55 1402.14L1661.78 1402.46L1663 1402.75L1664.22 1403L1665.44 1403.21L1666.67 1403.36L1667.89 1403.45L1669.11 1403.49L1670.33 1403.47L1671.56 1403.39L1672.78 1403.25L1674 1403.06L1675.22 1402.82L1676.44 1402.54L1677.67 1402.23L1678.89 1401.88L1680.11 1401.52L1681.33 1401.14L1682.56 1400.77L1683.78 1400.4L1685 1400.05L1686.22 1399.72L1687.45 1399.42L1688.67 1399.17L1689.89 1398.96L1691.11 1398.8L1692.33 1398.7L1693.56 1398.65L1694.78 1398.67L1696 1398.74L1697.22 1398.86L1698.45 1399.04L1699.67 1399.27L1700.89 1399.55L1702.11 1399.86L1703.34 1400.2L1704.56 1400.56L1705.78 1400.93L1707 1401.3L1708.23 1401.67L1709.45 1402.03L1710.67 1402.36L1711.89 1402.66L1713.11 1402.93L1714.34 1403.14L1715.56 1403.31L1716.78 1403.43L1718 1403.48L1719.23 1403.48L1720.45 1403.42L1721.67 1403.31L1722.89 1403.14L1724.12 1402.92L1725.34 1402.66L1726.56 1402.36L1727.78 1402.03L1729 1401.68L1730.23 1401.31L1731.45 1400.94L1732.67 1400.57L1733.89 1400.21L1735.12 1399.88L1736.34 1399.58L1737.56 1399.31L1738.78 1399.08L1740.01 1398.91L1741.23 1398.79L1742.45 1398.72L1743.67 1398.71L1744.89 1398.76L1746.12 1398.87L1747.34 1399.03L1748.56 1399.24L1749.78 1399.49L1751.01 1399.79L1752.23 1400.11L1753.45 1400.46L1754.67 1400.83L1755.9 1401.2L1757.12 1401.56L1758.34 1401.92L1759.56 1402.26L1760.78 1402.57L1762.01 1402.84L1763.23 1403.08L1764.45 1403.26L1765.67 1403.39L1766.9 1403.47L1768.12 1403.49L1769.34 1403.45L1770.56 1403.36L1771.79 1403.21L1773.01 1403.01L1774.23 1402.77L1775.45 1402.48L1776.68 1402.17L1777.9 1401.83L1779.12 1401.47L1780.34 1401.1L1781.56 1400.73L1782.79 1400.38L1784.01 1400.04L1785.23 1399.73L1786.45 1399.45L1787.68 1399.21L1788.9 1399.02L1790.12 1398.88L1791.34 1398.8L1792.57 1398.77L1793.79 1398.8L1795.01 1398.88L1796.23 1399.02L1797.45 1399.21L1798.68 1399.45L1799.9 1399.72L1801.12 1400.03L1802.34 1400.37L1803.57 1400.73L1804.79 1401.09L1806.01 1401.46L1807.23 1401.82L1808.46 1402.16L1809.68 1402.47L1810.9 1402.76L1812.12 1403L1813.34 1403.2L1814.57 1403.35L1815.79 1403.45L1817.01 1403.49L1818.23 1403.47L1819.46 1403.4L1820.68 1403.27L1821.9 1403.09L1823.12 1402.87L1824.35 1402.6L1825.57 1402.3L1826.79 1401.97L1828.01 1401.62L1829.23 1401.26L1830.46 1400.89L1831.68 1400.54L1832.9 1400.19L1834.12 1399.87L1835.35 1399.58L1836.57 1399.33L1837.79 1399.13L1839.01 1398.97L1840.24 1398.86L1841.46 1398.81L1842.68 1398.82L1843.9 1398.88L1845.12 1399L1846.35 1399.17L1847.57 1399.39L1848.79 1399.65L1850.01 1399.94L1851.24 1400.27L1852.46 1400.62L1853.68 1400.98L1854.9 1401.34L1856.13 1401.7L1857.35 1402.04L1858.57 1402.37L1859.79 1402.66L1861.02 1402.92L1862.24 1403.14L1863.46 1403.3L1864.68 1403.42L1865.9 1403.48L1867.13 1403.48L1868.35 1403.43L1869.57 1403.33L1870.79 1403.17L1872.02 1402.96L1873.24 1402.71L1874.46 1402.42L1875.68 1402.1L1876.91 1401.76L1878.13 1401.4L1879.35 1401.04L1880.57 1400.68L1881.79 1400.33L1883.02 1400.01L1884.24 1399.71L1885.46 1399.44L1886.68 1399.22L1887.91 1399.05L1889.13 1398.92L1890.35 1398.85L1891.57 1398.84L1892.8 1398.88L1894.02 1398.98L1895.24 1399.13L1896.46 1399.33L1897.68 1399.57L1898.91 1399.86L1900.13 1400.17L1901.35 1400.51L1902.57 1400.86L1903.8 1401.22L1905.02 1401.58L1906.24 1401.93L1907.46 1402.26L1908.69 1402.57L1909.91 1402.84L1911.13 1403.07L1912.35 1403.25L1913.57 1403.38L1914.8 1403.46L1916.02 1403.49L1917.24 1403.46L1918.46 1403.37L1919.69 1403.23L1920.91 1403.04L1922.13 1402.81L1923.35 1402.53L1924.58 1402.23L1925.8 1401.89L1927.02 1401.54L1928.24 1401.19L1929.47 1400.83L1930.69 1400.48L1931.91 1400.14L1933.13 1399.84L1934.35 1399.56L1935.58 1399.32L1936.8 1399.13L1938.02 1398.99L1939.24 1398.9L1940.47 1398.87L1941.69 1398.89L1942.91 1398.97L1944.13 1399.1L1945.36 1399.28L1946.58 1399.5L1947.8 1399.77L1949.02 1400.07L1950.24 1400.4L1951.47 1400.75L1952.69 1401.11L1953.91 1401.46L1955.13 1401.82L1956.36 1402.15L1957.58 1402.47L1958.8 1402.75L1960.02 1402.99L1961.25 1403.19L1962.47 1403.34L1963.69 1403.44L1964.91 1403.49L1966.13 1403.48L1967.36 1403.41L1968.58 1403.29L1969.8 1403.12L1971.02 1402.9L1972.25 1402.64L1973.47 1402.35L1974.69 1402.03L1975.91 1401.68L1977.14 1401.33L1978.36 1400.97L1979.58 1400.62L1980.8 1400.28L1982.02 1399.97L1983.25 1399.68L1984.47 1399.43L1985.69 1399.22L1986.91 1399.06L1988.14 1398.95L1989.36 1398.9L1990.58 1398.9L1991.8 1398.96L1993.03 1399.07L1994.25 1399.23L1995.47 1399.44L1996.69 1399.69L1997.91 1399.98L1999.14 1400.3L2000.36 1400.64L2001.58 1400.99L2002.8 1401.35L2004.03 1401.7L2005.25 1402.04L2006.47 1402.36L2007.69 1402.65L2008.92 1402.91L2010.14 1403.13L2011.36 1403.3L2012.58 1403.41L2013.81 1403.48L2015.03 1403.49L2016.25 1403.44L2017.47 1403.34L2018.69 1403.19L2019.92 1402.99L2021.14 1402.75L2022.36 1402.46L2023.58 1402.15L2024.81 1401.82L2026.03 1401.47L2027.25 1401.12L2028.47 1400.76L2029.7 1400.42L2030.92 1400.1L2032.14 1399.8L2033.36 1399.54L2034.58 1399.32L2035.81 1399.14L2037.03 1399.02L2038.25 1398.94L2039.47 1398.92L2040.7 1398.96L2041.92 1399.05L2043.14 1399.19L2044.36 1399.39L2045.59 1399.62L2046.81 1399.9L2048.03 1400.2L2049.25 1400.53L2050.47 1400.88L2051.7 1401.23L2052.92 1401.59L2054.14 1401.93L2055.36 1402.26L2056.59 1402.56L2057.81 1402.83L2059.03 1403.06L2060.25 1403.24L2061.48 1403.38L2062.7 1403.46L2063.92 1403.49L2065.14 1403.46L2066.36 1403.38L2067.59 1403.25L2068.81 1403.07L2070.03 1402.84L2071.25 1402.58L2072.48 1402.28L2073.7 1401.95L2074.92 1401.61L2076.14 1401.26L2077.37 1400.91L2078.59 1400.56L2079.81 1400.23L2081.03 1399.93L2082.26 1399.65L2083.48 1399.42L2084.7 1399.23L2085.92 1399.08L2087.14 1398.99L2088.37 1398.95L2089.59 1398.97L2090.81 1399.04L2092.03 1399.16L2093.26 1399.34L2094.48 1399.56L2095.7 1399.82L2096.92 1400.11L2098.15 1400.43L2099.37 1400.77L2100.59 1401.12L2101.81 1401.47L2103.03 1401.82L2104.26 1402.15L2105.48 1402.46L2106.7 1402.74L2107.92 1402.98L2109.15 1403.18L2110.37 1403.33L2111.59 1403.44L2112.81 1403.49L2114.04 1403.48L2115.26 1403.42L2116.48 1403.31" stroke="#008000" stroke-width="3" stroke-dasharray="11.7 7.8" stroke-dashoffset="3.2"/>
<path d="M283 1131.1L437.32 1131.1L438.55 1126.68L439.78 1121.64L441.01 1115.97L442.24 1109.66L443.48 1102.69L444.71 1095.07L445.94 1086.8L447.17 1077.86L448.4 1068.25L449.63 1057.98L450.86 1047.04L452.1 1035.43L453.33 1023.16L454.56 1010.23L455.79 996.65L457.02 982.41L458.25 967.54L459.48 952.03L460.72 935.9L461.95 919.15L463.18 901.8L464.41 883.87L465.64 865.36L466.87 846.29L468.1 826.68L469.34 806.55L470.57 785.91L471.8 764.78L473.03 743.2L474.26 721.17L475.49 698.73L476.72 675.9L477.96 652.71L479.19 629.17L480.42 605.33L481.65 581.21L482.88 556.84L484.11 532.26L485.34 507.5L486.58 482.58L487.81 457.56L489.04 432.47L490.27 407.34L491.5 382.21L492.73 357.13L493.96 332.13L495.2 307.27L496.43 282.58L497.66 258.1L498.89 233.9L500.12 210.01L501.35 186.48L502.58 163.36L503.82 140.72L505.05 118.58L506.28 97.02L507.51 76.09" stroke="#0000ff" stroke-width="3"/>
<path d="M283 1424.75L434.57 1424.75L435.79 1424.39L437.01 1423.33L438.23 1421.58L439.46 1419.19L440.68 1416.21L441.9 1412.71L443.12 1408.76L444.35 1404.45L445.57 1399.88L446.79 1395.15L448.01 1390.36L449.24 1385.63L450.46 1381.05L451.68 1376.73L452.9 1372.77L454.12 1369.25L455.35 1366.25L456.57 1363.85L457.79 1362.08L459.01 1361L460.24 1360.62L461.46 1360.83L462.68 1361.76L463.9 1363.39L465.13 1365.64L466.35 1368.46L467.57 1371.76L468.79 1375.44L470.01 1379.41L471.24 1383.54L472.46 1387.74L473.68 1391.89L474.9 1395.88L476.13 1399.61L477.35 1402.99L478.57 1405.92L479.79 1408.33L481.02 1410.16L482.24 1411.37L483.46 1411.93L484.68 1411.83L485.91 1411.2L487.13 1410L488.35 1408.25L489.57 1405.98L490.79 1403.26L492.02 1400.13L493.24 1396.66L494.46 1392.93L495.68 1389.01L496.91 1384.99L498.13 1380.94L499.35 1376.96L500.57 1373.12L501.8 1369.5L503.02 1366.17L504.24 1363.2L505.46 1360.63L506.68 1358.52L507.91 1356.9L509.13 1355.79L510.35 1355.22L511.57 1355.26L512.8 1355.99L514.02 1357.34L515.24 1359.28L516.46 1361.73L517.69 1364.61L518.91 1367.82L520.13 1371.28L521.35 1374.86L522.57 1378.47L523.8 1381.99L525.02 1385.33L526.24 1388.37L527.46 1391.05L528.69 1393.27L529.91 1394.99L531.13 1396.14L532.35 1396.71L533.58 1396.68L534.8 1396.25L536.02 1395.37L537.24 1394.05L538.46 1392.34L539.69 1390.26L540.91 1387.87L542.13 1385.21L543.35 1382.34L544.58 1379.32L545.8 1376.22L547.02 1373.11L548.24 1370.04L549.47 1367.09L550.69 1364.3L551.91 1361.75L553.13 1359.47L554.36 1357.52L555.58 1355.93L556.8 1354.72L558.02 1353.92L559.24 1353.54L560.47 1353.63L561.69 1354.18L562.91 1355.17L564.13 1356.57L565.36 1358.34L566.58 1360.42L567.8 1362.75L569.02 1365.29L570.25 1367.95L571.47 1370.66L572.69 1373.37L573.91 1376L575.13 1378.48L576.36 1380.75L577.58 1382.76L578.8 1384.46L580.02 1385.81L581.25 1386.77L582.47 1387.34L583.69 1387.48L584.91 1387.25L586.14 1386.64L587.36 1385.68L588.58 1384.38L589.8 1382.77L591.02 1380.89L592.25 1378.78L593.47 1376.5L594.69 1374.1L595.91 1371.63L597.14 1369.14L598.36 1366.69L599.58 1364.33L600.8 1362.12L602.03 1360.1L603.25 1358.31L604.47 1356.79L605.69 1355.57L606.91 1354.66L608.14 1354.09L609.36 1353.86L610.58 1353.97L611.8 1354.39L613.03 1355.1L614.25 1356.08L615.47 1357.31L616.69 1358.75L617.92 1360.37L619.14 1362.14L620.36 1364.01L621.58 1365.93L622.8 1367.88L624.03 1369.8L625.25 1371.65L626.47 1373.4L627.69 1375.01L628.92 1376.44L630.14 1377.66L631.36 1378.66L632.58 1379.4L633.81 1379.89L635.03 1380.1L636.25 1380.05L637.47 1379.67L638.7 1378.94L639.92 1377.9L641.14 1376.57L642.36 1374.99L643.58 1373.2L644.81 1371.27L646.03 1369.23L647.25 1367.16L648.47 1365.09L649.7 1363.1L650.92 1361.22L652.14 1359.52L653.36 1358.03L654.59 1356.78L655.81 1355.81L657.03 1355.13L658.25 1354.76L659.47 1354.7L660.7 1354.93L661.92 1355.42L663.14 1356.15L664.36 1357.09L665.59 1358.23L666.81 1359.52L668.03 1360.94L669.25 1362.43L670.48 1363.96L671.7 1365.49L672.92 1366.98L674.14 1368.39L675.36 1369.68L676.59 1370.83L677.81 1371.8L679.03 1372.58L680.25 1373.14L681.48 1373.47L682.7 1373.57L683.92 1373.49L685.14 1373.24L686.37 1372.78L687.59 1372.13L688.81 1371.3L690.03 1370.31L691.25 1369.18L692.48 1367.94L693.7 1366.62L694.92 1365.25L696.14 1363.87L697.37 1362.49L698.59 1361.16L699.81 1359.91L701.03 1358.76L702.26 1357.73L703.48 1356.86L704.7 1356.15L705.92 1355.63L707.15 1355.29L708.37 1355.16L709.59 1355.23L710.81 1355.54L712.03 1356.07L713.26 1356.8L714.48 1357.72L715.7 1358.78L716.92 1359.97L718.15 1361.23L719.37 1362.55L720.59 1363.87L721.81 1365.17L723.04 1366.39L724.26 1367.52L725.48 1368.51L726.7 1369.34L727.92 1369.99L729.15 1370.44L730.37 1370.67L731.59 1370.7L732.81 1370.55L734.04 1370.22L735.26 1369.73L736.48 1369.08L737.7 1368.28L738.93 1367.37L740.15 1366.34L741.37 1365.23L742.59 1364.06L743.81 1362.86L745.04 1361.65L746.26 1360.46L747.48 1359.31L748.7 1358.24L749.93 1357.26L751.15 1356.4L752.37 1355.66L753.59 1355.08L754.82 1354.67L756.04 1354.42L757.26 1354.34L758.48 1354.47L759.7 1354.81L760.93 1355.34L762.15 1356.05L763.37 1356.92L764.59 1357.92L765.82 1359.03L767.04 1360.22L768.26 1361.44L769.48 1362.67L770.71 1363.87L771.93 1365.01L773.15 1366.06L774.37 1366.98L775.59 1367.76L776.82 1368.36L778.04 1368.77L779.26 1369.01L780.48 1369.05L781.71 1368.91L782.93 1368.59L784.15 1368.11L785.37 1367.48L786.6 1366.71L787.82 1365.81L789.04 1364.82L790.26 1363.74L791.49 1362.6L792.71 1361.43L793.93 1360.25L795.15 1359.09L796.37 1357.98L797.6 1356.94L798.82 1355.99L800.04 1355.15L801.26 1354.45L802.49 1353.89L803.71 1353.5L804.93 1353.27L806.15 1353.22L807.38 1353.35L808.6 1353.67L809.82 1354.16L811.04 1354.82L812.26 1355.62L813.49 1356.55L814.71 1357.59L815.93 1358.71L817.15 1359.88L818.38 1361.08L819.6 1362.28L820.82 1363.45L822.04 1364.56L823.27 1365.58L824.49 1366.49L825.71 1367.26L826.93 1367.89L828.15 1368.35L829.38 1368.63L830.6 1368.71L831.82 1368.6L833.04 1368.3L834.27 1367.82L835.49 1367.18L836.71 1366.38L837.93 1365.46L839.16 1364.42L840.38 1363.29L841.6 1362.11L842.82 1360.9L844.04 1359.68L845.27 1358.49L846.49 1357.35L847.71 1356.3L848.93 1355.34L850.16 1354.52L851.38 1353.84L852.6 1353.33L853.82 1352.98L855.05 1352.82L856.27 1352.84L857.49 1353.05L858.71 1353.44L859.94 1354L861.16 1354.72L862.38 1355.57L863.6 1356.54L864.82 1357.61L866.05 1358.74L867.27 1359.9L868.49 1361.08L869.71 1362.24L870.94 1363.34L872.16 1364.37L873.38 1365.3L874.6 1366.11L875.83 1366.77L877.05 1367.27L878.27 1367.6L879.49 1367.73L880.71 1367.67L881.94 1367.44L883.16 1367.05L884.38 1366.51L885.6 1365.84L886.83 1365.05L888.05 1364.15L889.27 1363.17L890.49 1362.13L891.72 1361.06L892.94 1359.98L894.16 1358.9L895.38 1357.87L896.6 1356.89L897.83 1355.99L899.05 1355.19L900.27 1354.5L901.49 1353.94L902.72 1353.52L903.94 1353.25L905.16 1353.12L906.38 1353.15L907.61 1353.36L908.83 1353.72L910.05 1354.24L911.27 1354.9L912.49 1355.67L913.72 1356.54L914.94 1357.48L916.16 1358.47L917.38 1359.48L918.61 1360.48L919.83 1361.45L921.05 1362.35L922.27 1363.18L923.5 1363.9L924.72 1364.49L925.94 1364.96L927.16 1365.27L928.38 1365.43L929.61 1365.43L930.83 1365.29L932.05 1365.02L933.27 1364.62L934.5 1364.1L935.72 1363.47L936.94 1362.76L938.16 1361.97L939.39 1361.13L940.61 1360.26L941.83 1359.38L943.05 1358.5L944.28 1357.66L945.5 1356.86L946.72 1356.13L947.94 1355.47L949.16 1354.92L950.39 1354.47L951.61 1354.13L952.83 1353.92L954.05 1353.83L955.28 1353.87L956.5 1354.03L957.72 1354.3L958.94 1354.68L960.17 1355.16L961.39 1355.72L962.61 1356.35L963.83 1357.04L965.05 1357.76L966.28 1358.5L967.5 1359.24L968.72 1359.96L969.94 1360.65L971.17 1361.29L972.39 1361.87L973.61 1362.36L974.83 1362.77L976.06 1363.08L977.28 1363.28L978.5 1363.38L979.72 1363.38L980.94 1363.28L982.17 1363.06L983.39 1362.72L984.61 1362.27L985.83 1361.73L987.06 1361.1L988.28 1360.41L989.5 1359.67L990.72 1358.9L991.95 1358.14L993.17 1357.39L994.39 1356.68L995.61 1356.02L996.83 1355.44L998.06 1354.96L999.28 1354.58L1000.5 1354.31L1001.72 1354.16L1002.95 1354.14L1004.17 1354.23L1005.39 1354.42L1006.61 1354.71L1007.84 1355.09L1009.06 1355.55L1010.28 1356.08L1011.5 1356.67L1012.73 1357.3L1013.95 1357.95L1015.17 1358.62L1016.39 1359.29L1017.61 1359.93L1018.84 1360.53L1020.06 1361.09L1021.28 1361.58L1022.5 1361.99L1023.73 1362.32L1024.95 1362.55L1026.17 1362.69L1027.39 1362.72L1028.62 1362.64L1029.84 1362.45L1031.06 1362.16L1032.28 1361.77L1033.5 1361.3L1034.73 1360.74L1035.95 1360.13L1037.17 1359.46L1038.39 1358.77L1039.62 1358.07L1040.84 1357.37L1042.06 1356.7L1043.28 1356.07L1044.51 1355.49L1045.73 1354.98L1046.95 1354.55L1048.17 1354.22L1049.39 1353.99L1050.62 1353.87L1051.84 1353.85L1053.06 1353.93L1054.28 1354.1L1055.51 1354.35L1056.73 1354.69L1057.95 1355.1L1059.17 1355.57L1060.4 1356.1L1061.62 1356.66L1062.84 1357.26L1064.06 1357.86L1065.28 1358.47L1066.51 1359.07L1067.73 1359.64L1068.95 1360.18L1070.17 1360.66L1071.4 1361.09L1072.62 1361.44L1073.84 1361.72L1075.06 1361.91L1076.29 1362.01L1077.51 1362.02L1078.73 1361.95L1079.95 1361.75L1081.17 1361.45L1082.4 1361.05L1083.62 1360.56L1084.84 1360L1086.06 1359.38L1087.29 1358.71L1088.51 1358.02L1089.73 1357.32L1090.95 1356.63L1092.18 1355.98L1093.4 1355.38L1094.62 1354.85L1095.84 1354.4L1097.07 1354.04L1098.29 1353.79L1099.51 1353.65L1100.73 1353.62L1101.95 1353.69L1103.18 1353.85L1104.4 1354.1L1105.62 1354.43L1106.84 1354.83L1108.07 1355.3L1109.29 1355.82L1110.51 1356.39L1111.73 1356.99L1112.96 1357.6L1114.18 1358.22L1115.4 1358.83L1116.62 1359.42L1117.84 1359.97L1119.07 1360.47L1120.29 1360.92L1121.51 1361.29L1122.73 1361.59L1123.96 1361.81L1125.18 1361.93L1126.4 1361.97L1127.62 1361.9L1128.85 1361.73L1130.07 1361.47L1131.29 1361.12L1132.51 1360.68L1133.73 1360.18L1134.96 1359.61L1136.18 1359L1137.4 1358.35L1138.62 1357.69L1139.85 1357.04L1141.07 1356.39L1142.29 1355.78L1143.51 1355.22L1144.74 1354.71L1145.96 1354.28L1147.18 1353.93L1148.4 1353.68L1149.62 1353.52L1150.85 1353.46L1152.07 1353.5L1153.29 1353.65L1154.51 1353.89L1155.74 1354.23L1156.96 1354.65L1158.18 1355.15L1159.4 1355.7L1160.63 1356.31L1161.85 1356.94L1163.07 1357.6L1164.29 1358.26L1165.52 1358.9L1166.74 1359.52L1167.96 1360.09L1169.18 1360.6L1170.4 1361.04L1171.63 1361.4L1172.85 1361.65L1174.07 1361.8L1175.29 1361.84L1176.52 1361.78L1177.74 1361.62L1178.96 1361.37L1180.18 1361.02L1181.41 1360.6L1182.63 1360.11L1183.85 1359.56L1185.07 1358.96L1186.29 1358.34L1187.52 1357.71L1188.74 1357.07L1189.96 1356.46L1191.18 1355.87L1192.41 1355.33L1193.63 1354.85L1194.85 1354.44L1196.07 1354.1L1197.3 1353.85L1198.52 1353.69L1199.74 1353.62L1200.96 1353.65L1202.18 1353.77L1203.41 1353.97L1204.63 1354.26L1205.85 1354.62L1207.07 1355.05L1208.3 1355.52L1209.52 1356.04L1210.74 1356.59L1211.96 1357.15L1213.19 1357.71L1214.41 1358.25L1215.63 1358.77L1216.85 1359.25L1218.07 1359.68L1219.3 1360.04L1220.52 1360.34L1221.74 1360.56L1222.96 1360.7L1224.19 1360.76L1225.41 1360.73L1226.63 1360.62L1227.85 1360.43L1229.08 1360.16L1230.3 1359.83L1231.52 1359.44L1232.74 1359L1233.96 1358.52L1235.19 1358.01L1236.41 1357.5L1237.63 1356.98L1238.85 1356.47L1240.08 1355.98L1241.3 1355.53L1242.52 1355.13L1243.74 1354.78L1244.97 1354.49L1246.19 1354.26L1247.41 1354.11L1248.63 1354.04L1249.86 1354.04L1251.08 1354.11L1252.3 1354.26L1253.52 1354.47L1254.74 1354.74L1255.97 1355.07L1257.19 1355.44L1258.41 1355.85L1259.63 1356.28L1260.86 1356.72L1262.08 1357.17L1263.3 1357.6L1264.52 1358.02L1265.75 1358.41L1266.97 1358.76L1268.19 1359.06L1269.41 1359.3L1270.63 1359.49L1271.86 1359.62L1273.08 1359.67L1274.3 1359.67L1275.52 1359.59L1276.75 1359.45L1277.97 1359.26L1279.19 1359.01L1280.41 1358.74L1281.64 1358.42L1282.86 1358.06L1284.08 1357.68L1285.3 1357.27L1286.52 1356.86L1287.75 1356.44L1288.97 1356.04L1290.19 1355.65L1291.41 1355.3L1292.64 1354.98L1293.86 1354.71L1295.08 1354.49L1296.3 1354.32L1297.53 1354.23L1298.75 1354.19L1299.97 1354.22L1301.19 1354.32L1302.41 1354.48L1303.64 1354.71L1304.86 1354.98L1306.08 1355.31L1307.3 1355.67L1308.53 1356.07L1309.75 1356.48L1310.97 1356.91L1312.19 1357.35L1313.42 1357.77L1314.64 1358.17L1315.86 1358.55L1317.08 1358.88L1318.31 1359.17L1319.53 1359.41L1320.75 1359.59L1321.97 1359.7L1323.19 1359.74L1324.42 1359.72L1325.64 1359.63L1326.86 1359.47L1328.08 1359.25L1329.31 1358.97L1330.53 1358.64L1331.75 1358.27L1332.97 1357.86L1334.2 1357.43L1335.42 1356.99L1336.64 1356.54L1337.86 1356.1L1339.08 1355.68L1340.31 1355.28L1341.53 1354.93L1342.75 1354.62L1343.97 1354.37L1345.2 1354.17L1346.42 1354.05L1347.64 1353.99L1348.86 1354L1350.09 1354.09L1351.31 1354.24L1352.53 1354.46L1353.75 1354.74L1354.97 1355.08L1356.2 1355.46L1357.42 1355.87L1358.64 1356.31L1359.86 1356.77L1361.09 1357.24L1362.31 1357.7L1363.53 1358.14L1364.75 1358.55L1365.98 1358.92L1367.2 1359.25L1368.42 1359.52L1369.64 1359.73L1370.86 1359.87L1372.09 1359.94L1373.31 1359.94L1374.53 1359.86L1375.75 1359.71L1376.98 1359.5L1378.2 1359.21L1379.42 1358.88L1380.64 1358.49L1381.87 1358.07L1383.09 1357.61L1384.31 1357.14L1385.53 1356.66L1386.75 1356.18L1387.98 1355.72L1389.2 1355.29L1390.42 1354.9L1391.64 1354.55L1392.87 1354.26L1394.09 1354.03L1395.31 1353.88L1396.53 1353.79L1397.76 1353.79L1398.98 1353.86L1400.2 1354L1401.42 1354.21L1402.65 1354.49L1403.87 1354.83L1405.09 1355.23L1406.31 1355.66L1407.53 1356.13L1408.76 1356.62L1409.98 1357.11L1411.2 1357.6L1412.42 1358.08L1413.65 1358.53L1414.87 1358.95L1416.09 1359.31L1417.31 1359.62L1418.54 1359.86L1419.76 1360.04L1420.98 1360.11L1422.2 1360.11L1423.42 1360.04L1424.65 1359.88L1425.87 1359.66L1427.09 1359.36L1428.31 1359.01L1429.54 1358.61L1430.76 1358.17L1431.98 1357.7L1433.2 1357.21L1434.43 1356.71L1435.65 1356.22L1436.87 1355.74L1438.09 1355.3L1439.31 1354.89L1440.54 1354.53L1441.76 1354.22L1442.98 1353.98L1444.2 1353.81L1445.43 1353.71L1446.65 1353.69L1447.87 1353.74L1449.09 1353.86L1450.32 1354.05L1451.54 1354.31L1452.76 1354.62L1453.98 1354.98L1455.2 1355.38L1456.43 1355.81L1457.65 1356.27L1458.87 1356.72L1460.09 1357.18L1461.32 1357.62L1462.54 1358.04L1463.76 1358.42L1464.98 1358.75L1466.21 1359.04L1467.43 1359.26L1468.65 1359.42L1469.87 1359.51L1471.1 1359.53L1472.32 1359.48L1473.54 1359.36L1474.76 1359.17L1475.98 1358.92L1477.21 1358.62L1478.43 1358.27L1479.65 1357.87L1480.87 1357.45L1482.1 1357.01L1483.32 1356.56L1484.54 1356.11L1485.76 1355.68L1486.99 1355.26L1488.21 1354.88L1489.43 1354.54L1490.65 1354.25L1491.87 1354.01L1493.1 1353.84L1494.32 1353.73L1495.54 1353.69L1496.76 1353.71L1497.99 1353.8L1499.21 1353.96L1500.43 1354.17L1501.65 1354.44L1502.88 1354.75L1504.1 1355.1L1505.32 1355.49L1506.54 1355.89L1507.76 1356.3L1508.99 1356.71L1510.21 1357.11L1511.43 1357.5L1512.65 1357.85L1513.88 1358.16L1515.1 1358.43L1516.32 1358.65L1517.54 1358.81L1518.77 1358.91L1519.99 1358.94L1521.21 1358.91L1522.43 1358.82L1523.65 1358.67L1524.88 1358.46L1526.1 1358.2L1527.32 1357.89L1528.54 1357.55L1529.77 1357.18L1530.99 1356.79L1532.21 1356.38L1533.43 1355.98L1534.66 1355.58L1535.88 1355.21L1537.1 1354.85L1538.32 1354.54L1539.54 1354.26L1540.77 1354.04L1541.99 1353.86L1543.21 1353.75L1544.43 1353.69L1545.66 1353.7L1546.88 1353.76L1548.1 1353.88L1549.32 1354.06L1550.55 1354.28L1551.77 1354.55L1552.99 1354.85L1554.21 1355.19L1555.44 1355.54L1556.66 1355.9L1557.88 1356.27L1559.1 1356.63L1560.32 1356.98L1561.55 1357.3L1562.77 1357.59L1563.99 1357.84L1565.21 1358.04L1566.44 1358.2L1567.66 1358.32L1568.88 1358.38L1570.1 1358.39L1571.33 1358.34L1572.55 1358.23L1573.77 1358.07L1574.99 1357.86L1576.21 1357.61L1577.44 1357.32L1578.66 1357L1579.88 1356.65L1581.1 1356.29L1582.33 1355.92L1583.55 1355.56L1584.77 1355.21L1585.99 1354.87L1587.22 1354.57L1588.44 1354.3L1589.66 1354.08L1590.88 1353.9L1592.1 1353.77L1593.33 1353.7L1594.55 1353.69L1595.77 1353.73L1596.99 1353.83L1598.22 1353.99L1599.44 1354.19L1600.66 1354.44L1601.88 1354.73L1603.11 1355.06L1604.33 1355.4L1605.55 1355.77L1606.77 1356.14L1607.99 1356.51L1609.22 1356.87L1610.44 1357.21L1611.66 1357.52L1612.88 1357.8L1614.11 1358.04L1615.33 1358.23L1616.55 1358.36L1617.77 1358.44L1619 1358.47L1620.22 1358.44L1621.44 1358.34L1622.66 1358.2L1623.89 1358L1625.11 1357.76L1626.33 1357.47L1627.55 1357.15L1628.77 1356.81L1630 1356.44L1631.22 1356.07L1632.44 1355.7L1633.66 1355.34L1634.89 1354.99L1636.11 1354.67L1637.33 1354.39L1638.55 1354.15L1639.78 1353.95L1641 1353.81L1642.22 1353.72L1643.44 1353.69L1644.66 1353.71L1645.89 1353.8L1647.11 1353.94L1648.33 1354.13L1649.55 1354.38L1650.78 1354.66L1652 1354.98L1653.22 1355.32L1654.44 1355.69L1655.67 1356.07L1656.89 1356.44L1658.11 1356.81L1659.33 1357.17L1660.55 1357.49L1661.78 1357.79L1663 1358.04L1664.22 1358.25L1665.44 1358.4L1666.67 1358.5L1667.89 1358.55L1669.11 1358.53L1670.33 1358.45L1671.56 1358.32L1672.78 1358.14L1674 1357.9L1675.22 1357.62L1676.44 1357.31L1677.67 1356.97L1678.89 1356.6L1680.11 1356.23L1681.33 1355.85L1682.56 1355.47L1683.78 1355.12L1685 1354.78L1686.22 1354.48L1687.45 1354.22L1688.67 1354.01L1689.89 1353.85L1691.11 1353.74L1692.33 1353.69L1693.56 1353.7L1694.78 1353.77L1696 1353.9L1697.22 1354.08L1698.45 1354.31L1699.67 1354.58L1700.89 1354.9L1702.11 1355.24L1703.34 1355.61L1704.56 1355.99L1705.78 1356.37L1707 1356.75L1708.23 1357.12L1709.45 1357.46L1710.67 1357.77L1711.89 1358.04L1713.11 1358.26L1714.34 1358.44L1715.56 1358.56L1716.78 1358.62L1718 1358.62L1719.23 1358.56L1720.45 1358.44L1721.67 1358.27L1722.89 1358.05L1724.12 1357.78L1725.34 1357.47L1726.56 1357.13L1727.78 1356.76L1729 1356.38L1730.23 1356L1731.45 1355.62L1732.67 1355.25L1733.89 1354.9L1735.12 1354.59L1736.34 1354.31L1737.56 1354.08L1738.78 1353.89L1740.01 1353.77L1741.23 1353.7L1742.45 1353.69L1743.67 1353.74L1744.89 1353.85L1746.12 1354.02L1747.34 1354.24L1748.56 1354.51L1749.78 1354.82L1751.01 1355.16L1752.23 1355.52L1753.45 1355.9L1754.67 1356.28L1755.9 1356.66L1757.12 1357.02L1758.34 1357.37L1759.56 1357.68L1760.78 1357.95L1762.01 1358.18L1763.23 1358.36L1764.45 1358.49L1765.67 1358.56L1766.9 1358.57L1768.12 1358.52L1769.34 1358.41L1770.56 1358.25L1771.79 1358.03L1773.01 1357.77L1774.23 1357.47L1775.45 1357.14L1776.68 1356.79L1777.9 1356.41L1779.12 1356.04L1780.34 1355.66L1781.56 1355.3L1782.79 1354.95L1784.01 1354.64L1785.23 1354.36L1786.45 1354.12L1787.68 1353.93L1788.9 1353.79L1790.12 1353.71L1791.34 1353.69L1792.57 1353.72L1793.79 1353.81L1795.01 1353.95L1796.23 1354.14L1797.45 1354.38L1798.68 1354.66L1799.9 1354.97L1801.12 1355.3L1802.34 1355.65L1803.57 1356.01L1804.79 1356.36L1806.01 1356.71L1807.23 1357.04L1808.46 1357.34L1809.68 1357.61L1810.9 1357.84L1812.12 1358.02L1813.34 1358.15L1814.57 1358.23L1815.79 1358.26L1817.01 1358.22L1818.23 1358.14L1819.46 1358L1820.68 1357.81L1821.9 1357.58L1823.12 1357.31L1824.35 1357.01L1825.57 1356.68L1826.79 1356.34L1828.01 1355.99L1829.23 1355.64L1830.46 1355.29L1831.68 1354.96L1832.9 1354.66L1834.12 1354.39L1835.35 1354.15L1836.57 1353.96L1837.79 1353.82L1839.01 1353.73L1840.24 1353.69L1841.46 1353.7L1842.68 1353.77L1843.9 1353.89L1845.12 1354.05L1846.35 1354.26L1847.57 1354.51L1848.79 1354.79L1850.01 1355.09L1851.24 1355.42L1852.46 1355.75L1853.68 1356.08L1854.9 1356.41L1856.13 1356.72L1857.35 1357.01L1858.57 1357.27L1859.79 1357.49L1861.02 1357.67L1862.24 1357.81L1863.46 1357.9L1864.68 1357.94L1865.9 1357.93L1867.13 1357.86L1868.35 1357.75L1869.57 1357.58L1870.79 1357.38L1872.02 1357.14L1873.24 1356.87L1874.46 1356.57L1875.68 1356.25L1876.91 1355.93L1878.13 1355.6L1879.35 1355.27L1880.57 1354.96L1881.79 1354.67L1883.02 1354.41L1884.24 1354.18L1885.46 1353.99L1886.68 1353.85L1887.91 1353.75L1889.13 1353.69L1890.35 1353.69L1891.57 1353.74L1892.8 1353.84L1894.02 1353.98L1895.24 1354.16L1896.46 1354.38L1897.68 1354.63L1898.91 1354.91L1900.13 1355.2L1901.35 1355.51L1902.57 1355.81L1903.8 1356.12L1905.02 1356.41L1906.24 1356.69L1907.46 1356.94L1908.69 1357.15L1909.91 1357.33L1911.13 1357.47L1912.35 1357.57L1913.57 1357.62L1914.8 1357.62L1916.02 1357.57L1917.24 1357.48L1918.46 1357.34L1919.69 1357.17L1920.91 1356.95L1922.13 1356.71L1923.35 1356.44L1924.58 1356.15L1925.8 1355.85L1927.02 1355.54L1928.24 1355.24L1929.47 1354.95L1930.69 1354.68L1931.91 1354.43L1933.13 1354.2L1934.35 1354.02L1935.58 1353.87L1936.8 1353.76L1938.02 1353.7L1939.24 1353.69L1940.47 1353.72L1941.69 1353.79L1942.91 1353.91L1944.13 1354.07L1945.36 1354.27L1946.58 1354.5L1947.8 1354.75L1949.02 1355.03L1950.24 1355.31L1951.47 1355.61L1952.69 1355.9L1953.91 1356.18L1955.13 1356.45L1956.36 1356.7L1957.58 1356.92L1958.8 1357.11L1960.02 1357.26L1961.25 1357.37L1962.47 1357.43L1963.69 1357.46L1964.91 1357.43L1966.13 1357.36L1967.36 1357.25L1968.58 1357.09L1969.8 1356.9L1971.02 1356.68L1972.25 1356.43L1973.47 1356.16L1974.69 1355.87L1975.91 1355.58L1977.14 1355.29L1978.36 1355L1979.58 1354.73L1980.8 1354.48L1982.02 1354.25L1983.25 1354.06L1984.47 1353.91L1985.69 1353.79L1986.91 1353.72L1988.14 1353.69L1989.36 1353.7L1990.58 1353.76L1991.8 1353.87L1993.03 1354.01L1994.25 1354.2L1995.47 1354.41L1996.69 1354.65L1997.91 1354.92L1999.14 1355.19L2000.36 1355.48L2001.58 1355.77L2002.8 1356.05L2004.03 1356.32L2005.25 1356.57L2006.47 1356.79L2007.69 1356.99L2008.92 1357.15L2010.14 1357.26L2011.36 1357.34L2012.58 1357.38L2013.81 1357.36L2015.03 1357.31L2016.25 1357.21L2017.47 1357.07L2018.69 1356.89L2019.92 1356.68L2021.14 1356.44L2022.36 1356.19L2023.58 1355.91L2024.81 1355.63L2026.03 1355.34L2027.25 1355.06L2028.47 1354.79L2029.7 1354.53L2030.92 1354.31L2032.14 1354.11L2033.36 1353.94L2034.58 1353.82L2035.81 1353.73L2037.03 1353.69L2038.25 1353.69L2039.47 1353.74L2040.7 1353.83L2041.92 1353.96L2043.14 1354.13L2044.36 1354.33L2045.59 1354.56L2046.81 1354.81L2048.03 1355.08L2049.25 1355.36L2050.47 1355.64L2051.7 1355.92L2052.92 1356.19L2054.14 1356.44L2055.36 1356.66L2056.59 1356.86L2057.81 1357.03L2059.03 1357.16L2060.25 1357.25L2061.48 1357.29L2062.7 1357.29L2063.92 1357.25L2065.14 1357.17L2066.36 1357.04L2067.59 1356.88L2068.81 1356.68L2070.03 1356.46L2071.25 1356.21L2072.48 1355.94L2073.7 1355.67L2074.92 1355.39L2076.14 1355.11L2077.37 1354.84L2078.59 1354.59L2079.81 1354.36L2081.03 1354.15L2082.26 1353.98L2083.48 1353.85L2084.7 1353.75L2085.92 1353.7L2087.14 1353.69L2088.37 1353.72L2089.59 1353.8L2090.81 1353.91L2092.03 1354.07L2093.26 1354.25L2094.48 1354.47L2095.7 1354.71L2096.92 1354.97L2098.15 1355.24L2099.37 1355.51L2100.59 1355.79L2101.81 1356.05L2103.03 1356.3L2104.26 1356.53L2105.48 1356.74L2106.7 1356.91L2107.92 1357.05L2109.15 1357.15L2110.37 1357.2L2111.59 1357.22L2112.81 1357.19L2114.04 1357.12L2115.26 1357.01L2116.48 1356.86" stroke="#0000ff" stroke-width="3" stroke-dasharray="11.7 7.8" stroke-dashoffset="3.2"/>
</g>
</svg>
<g>
<text transform="scale(1,0.872)" x="283.8" y="1885.89" font-size="62.7">0</text>
<text transform="scale(1,0.872)" x="420.91 452.26" y="1885.89" font-size="62.7">50</text>
<text transform="scale(1,0.872)" x="558.03 589.38 620.73" y="1885.89" font-size="62.7">100</text>
<text transform="scale(1,0.872)" x="710.82 742.17 773.52" y="1885.89" font-size="62.7">150</text>
<text transform="scale(1,0.872)" x="863.61 894.96 926.31" y="1885.89" font-size="62.7">200</text>
<text transform="scale(1,0.872)" x="1016.4 1047.75 1079.1" y="1885.89" font-size="62.7">250</text>
<text transform="scale(1,0.872)" x="1169.19 1200.54 1231.89" y="1885.89" font-size="62.7">300</text>
<text transform="scale(1,0.872)" x="1321.98 1353.33 1384.68" y="1885.89" font-size="62.7">350</text>
<text transform="scale(1,0.872)" x="1474.77 1506.12 1537.47" y="1885.89" font-size="62.7">400</text>
<text transform="scale(1,0.872)" x="1627.56 1658.91 1690.26" y="1885.89" font-size="62.7">450</text>
<text transform="scale(1,0.872)" x="1780.35 1811.7 1843.05" y="1885.89" font-size="62.7">500</text>
<text transform="scale(1,0.872)" x="1933.14 1964.49 1995.84" y="1885.89" font-size="62.7">550</text>
<text transform="scale(1,0.872)" x="2085.93 2117.28 2148.63" y="1885.89" font-size="62.7">600</text>
<text transform="scale(1,0.872)" x="186.98 218.33" y="315.77" font-size="62.7">15</text>
<text transform="scale(1,0.872)" x="186.98 218.33" y="652.52" font-size="62.7">10</text>
<text transform="scale(1,0.872)" x="218.33" y="989.28" font-size="62.7">5</text>
<text transform="scale(1,0.872)" x="218.33" y="1326.03" font-size="62.7">0</text>
<text transform="scale(1,0.872)" x="186.98 218.33" y="1662.79" dy="-2.33 2.33" font-size="62.7">-5</text>
</g>
<g>
<text transform="scale(1,0.872)" x="1065 1103.6 1142.2 1180.8 1219.4 1258 1296.6 1335.2" y="2002.29" dy="0 0 0 0 0 -5.16 5.16 -5.16" font-size="77">Time (s)</text>
<text transform="rotate(-90) scale(1,0.872)" x="-1391.6 -1353.4 -1315.2 -1277 -1238.8 -1200.6 -1162.4 -1124.2 -1086 -1047.8 -1009.6 -971.4 -933.2 -895 -856.8 -818.6 -780.4 -742.2 -704 -665.8 -627.6 -589.4 -551.2 -513 -474.8 -436.6 -398.4 -360.2 -322 -283.8 -245.6 -207.4 -169.2 -131 -92.8" y="106.19" dy="0 0 0 0 0 0 0 0 0 0 0 0 0 0 0 0 0 -6.88 6.88 -6.88 6.88 0 0 0 0 0 0 0 0 0 0 0 -5.16 5.16 -5.16" font-size="77">Displacement in X/Y/Z Direction (m)</text>
</g>
<g>
<rect x="957.5" y="17.5" width="1051.5" height="490" fill="#fff" stroke="#000" stroke-width="3" shape-rendering="crispEdges"/>
<path d="M965 57.4 H1093" stroke="#ff0000" stroke-width="3" fill="none"/>
<path d="M965 125.9 H1093" stroke="#ff0000" stroke-width="3" stroke-dasharray="12 7.6" fill="none"/>
<path d="M965 194.4 H1093" stroke="#008000" stroke-width="3" fill="none"/>
<path d="M966.4 262.6 H1092.1" stroke="#008000" stroke-width="8.4" stroke-linecap="round" stroke-dasharray="36.5 23.6 5.4 23.6" fill="none"/>
<path d="M965 331.4 H1093" stroke="#008000" stroke-width="3" stroke-dasharray="12 7.6" fill="none"/>
<path d="M965 399.9 H1093" stroke="#0000ff" stroke-width="3" fill="none"/>
<path d="M965 468.4 H1093" stroke="#0000ff" stroke-width="3" stroke-dasharray="12 7.6" fill="none"/>
<text transform="scale(1,0.872)" x="1140.13 1171.4 1202.67 1233.94 1265.21 1296.48 1327.76 1359.03 1390.3 1421.57 1452.84 1484.11 1515.38 1546.64 1577.91 1609.18 1640.45 1671.72 1702.99 1734.26 1765.53 1796.8" y="90.83" dy="0 -2.33 2.33" font-size="62.7">X-Curve with C1 Broken</text>
<text transform="scale(1,0.872)" x="1140.13 1171.4 1202.67 1233.94 1265.21 1296.48 1327.76 1359.03 1390.3 1421.57 1452.84 1484.11 1515.38 1546.64 1577.91 1609.18 1640.45 1671.72 1702.99 1734.26 1765.53 1796.8" y="169.38" dy="0 -2.33 2.33" font-size="62.7">Z-Curve with C1 Broken</text>
<text transform="scale(1,0.872)" x="1140.13 1171.4 1202.67 1233.94 1265.21 1296.48 1327.76 1359.03 1390.3 1421.57 1452.84 1484.11 1515.38 1546.64 1577.91 1609.18 1640.45 1671.72 1702.99 1734.26 1765.53 1796.8 1828.08 1859.35 1890.62" y="247.94" dy="0 -2.33 2.33" font-size="62.7">X-Curve with C1+C2 Broken</text>
<text transform="scale(1,0.872)" x="1140.13 1171.4 1202.67 1233.94 1265.21 1296.48 1327.76 1359.03 1390.3 1421.57 1452.84 1484.11 1515.38 1546.64 1577.91 1609.18 1640.45 1671.72 1702.99 1734.26 1765.53 1796.8 1828.08 1859.35 1890.62" y="326.49" dy="0 -2.33 2.33" font-size="62.7">Y-Curve with C1+C2 Broken</text>
<text transform="scale(1,0.872)" x="1140.13 1171.4 1202.67 1233.94 1265.21 1296.48 1327.76 1359.03 1390.3 1421.57 1452.84 1484.11 1515.38 1546.64 1577.91 1609.18 1640.45 1671.72 1702.99 1734.26 1765.53 1796.8 1828.08 1859.35 1890.62" y="405.05" dy="0 -2.33 2.33" font-size="62.7">Z-Curve with C1+C2 Broken</text>
<text transform="scale(1,0.872)" x="1140.13 1171.4 1202.67 1233.94 1265.21 1296.48 1327.76 1359.03 1390.3 1421.57 1452.84 1484.11 1515.38 1546.64 1577.91 1609.18 1640.45 1671.72 1702.99 1734.26 1765.53 1796.8 1828.08 1859.35 1890.62 1921.88 1953.15 1984.42" y="483.6" dy="0 -2.33 2.33" font-size="62.7">X-Curve with C1+C2+C3 Broken</text>
<text transform="scale(1,0.872)" x="1140.13 1171.4 1202.67 1233.94 1265.21 1296.48 1327.76 1359.03 1390.3 1421.57 1452.84 1484.11 1515.38 1546.64 1577.91 1609.18 1640.45 1671.72 1702.99 1734.26 1765.53 1796.8 1828.08 1859.35 1890.62 1921.88 1953.15 1984.42" y="562.16" dy="0 -2.33 2.33" font-size="62.7">Z-Curve with C1+C2+C3 Broken</text>
</g>
</svg>
</body></html>
